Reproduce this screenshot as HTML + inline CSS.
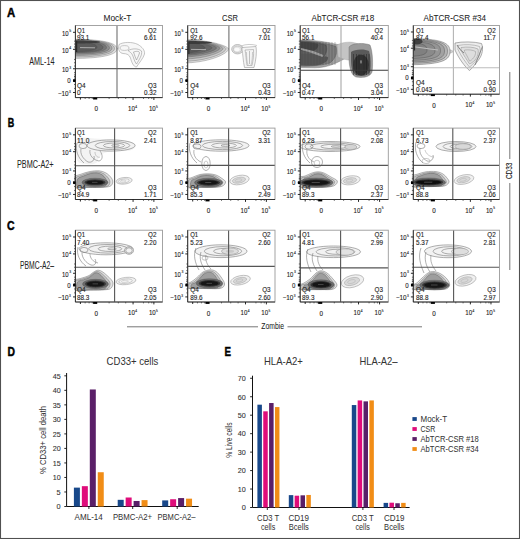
<!DOCTYPE html>
<html><head><meta charset="utf-8"><title>Figure</title>
<style>html,body{margin:0;padding:0;background:#fff;}body{width:520px;height:539px;overflow:hidden;font-family:"Liberation Sans", sans-serif;}svg{display:block;}</style>
</head><body>
<svg width="520" height="539" viewBox="0 0 520 539" font-family='"Liberation Sans", sans-serif'><defs><filter id="bl" x="-5%" y="-5%" width="110%" height="110%"><feGaussianBlur stdDeviation="0.45"/></filter><clipPath id="clip00"><rect x="75.40" y="25.50" width="87.10" height="72.10"/></clipPath><clipPath id="clip01"><rect x="187.70" y="25.50" width="87.30" height="72.10"/></clipPath><clipPath id="clip02"><rect x="300.20" y="25.50" width="88.10" height="72.10"/></clipPath><clipPath id="clip03"><rect x="413.30" y="25.50" width="86.20" height="68.70"/></clipPath><clipPath id="clip10"><rect x="75.40" y="128.10" width="87.10" height="71.40"/></clipPath><clipPath id="clip11"><rect x="187.70" y="128.10" width="87.30" height="71.40"/></clipPath><clipPath id="clip12"><rect x="300.20" y="128.10" width="88.10" height="71.40"/></clipPath><clipPath id="clip13"><rect x="413.30" y="128.10" width="86.20" height="71.40"/></clipPath><clipPath id="clip20"><rect x="75.40" y="230.20" width="87.10" height="71.80"/></clipPath><clipPath id="clip21"><rect x="187.70" y="230.20" width="87.30" height="71.80"/></clipPath><clipPath id="clip22"><rect x="300.20" y="230.20" width="88.10" height="71.80"/></clipPath><clipPath id="clip23"><rect x="413.30" y="230.20" width="86.20" height="71.80"/></clipPath></defs><rect x="0.00" y="0.00" width="520.00" height="539.00" fill="#fff" />
<text x="7.00" y="16.60" font-size="12.3" fill="#000" font-weight="bold" textLength="8.20" lengthAdjust="spacingAndGlyphs" stroke="#000" stroke-width="0.45">A</text>
<text x="7.70" y="127.00" font-size="12.3" fill="#000" font-weight="bold" textLength="6.50" lengthAdjust="spacingAndGlyphs" stroke="#000" stroke-width="0.45">B</text>
<text x="6.90" y="229.50" font-size="12.3" fill="#000" font-weight="bold" textLength="7.60" lengthAdjust="spacingAndGlyphs" stroke="#000" stroke-width="0.45">C</text>
<text x="7.50" y="355.80" font-size="12.3" fill="#000" font-weight="bold" textLength="7.50" lengthAdjust="spacingAndGlyphs" stroke="#000" stroke-width="0.45">D</text>
<text x="224.40" y="355.70" font-size="12.3" fill="#000" font-weight="bold" textLength="6.50" lengthAdjust="spacingAndGlyphs" stroke="#000" stroke-width="0.45">E</text>
<text x="103.50" y="21.00" font-size="9.2" fill="#222" textLength="27.80" lengthAdjust="spacingAndGlyphs" stroke="#222" stroke-width="0.04" >Mock-T</text>
<text x="222.10" y="21.00" font-size="9.2" fill="#222" textLength="16.00" lengthAdjust="spacingAndGlyphs" stroke="#222" stroke-width="0.04" >CSR</text>
<text x="311.50" y="21.00" font-size="9.2" fill="#222" textLength="62.70" lengthAdjust="spacingAndGlyphs" stroke="#222" stroke-width="0.04" >AbTCR-CSR #18</text>
<text x="423.50" y="21.00" font-size="9.2" fill="#222" textLength="62.50" lengthAdjust="spacingAndGlyphs" stroke="#222" stroke-width="0.04" >AbTCR-CSR #34</text>
<text x="29.20" y="65.10" font-size="10.8" fill="#222" textLength="25.20" lengthAdjust="spacingAndGlyphs" stroke="#222" stroke-width="0.04" >AML-14</text>
<text x="16.90" y="168.00" font-size="10.8" fill="#222" textLength="36.70" lengthAdjust="spacingAndGlyphs" stroke="#222" stroke-width="0.04" >PBMC-A2+</text>
<text x="20.00" y="268.90" font-size="10.8" fill="#222" textLength="34.00" lengthAdjust="spacingAndGlyphs" stroke="#222" stroke-width="0.04" >PBMC-A2–</text>
<line x1="509.80" y1="72.00" x2="509.80" y2="159.00" stroke="#777" stroke-width="1" />
<line x1="509.80" y1="183.00" x2="509.80" y2="270.00" stroke="#777" stroke-width="1" />
<text x="503.80" y="170.90" font-size="8.8" fill="#222" textLength="16.40" lengthAdjust="spacingAndGlyphs" transform="rotate(-90 512.00 170.90)" stroke="#222" stroke-width="0.12" >CD33</text>
<line x1="127.00" y1="326.80" x2="258.00" y2="326.80" stroke="#777" stroke-width="1" />
<line x1="287.50" y1="326.80" x2="422.00" y2="326.80" stroke="#777" stroke-width="1" />
<text x="261.30" y="328.80" font-size="8.8" fill="#222" textLength="22.70" lengthAdjust="spacingAndGlyphs" stroke="#222" stroke-width="0.04" >Zombie</text>
<g clip-path="url(#clip00)"><g filter="url(#bl)"><line x1="108" y1="48.6" x2="118" y2="48.6" stroke="#c8c8c8" stroke-width="1.2"/><path d="M70.00,39.20 C107.60,39.20 117.00,44.00 117.00,48.80 C117.00,53.65 107.60,58.50 70.00,58.50 Z" fill="#e0e0e0" stroke="#444" stroke-width="0.3"/><path d="M70.00,39.60 C105.60,39.60 114.50,44.05 114.50,48.50 C114.50,52.80 105.60,57.10 70.00,57.10 Z" fill="#c6c6c6" stroke="#444" stroke-width="0.3"/><path d="M70.00,40.00 C103.60,40.00 112.00,44.10 112.00,48.20 C112.00,51.90 103.60,55.60 70.00,55.60 Z" fill="#aaaaaa" stroke="#444" stroke-width="0.3"/><path d="M70.00,40.40 C101.60,40.40 109.50,44.15 109.50,47.90 C109.50,51.10 101.60,54.30 70.00,54.30 Z" fill="#8e8e8e" stroke="#444" stroke-width="0.3"/><path d="M70.00,40.80 C99.20,40.80 106.50,44.20 106.50,47.60 C106.50,50.40 99.20,53.20 70.00,53.20 Z" fill="#767676" stroke="#444" stroke-width="0.3"/><path d="M70.00,41.40 C96.40,41.40 103.00,44.40 103.00,47.40 C103.00,49.90 96.40,52.40 70.00,52.40 Z" fill="#666666" stroke="#444" stroke-width="0.3"/><path d="M70.00,42.00 C91.60,42.00 97.00,44.60 97.00,47.20 C97.00,49.45 91.60,51.70 70.00,51.70 Z" fill="#5a5a5a" stroke="#444" stroke-width="0.3"/><path d="M70.00,40.50 C94.00,40.50 100.00,41.25 100.00,42.00 C100.00,42.75 94.00,43.50 70.00,43.50 Z" fill="#3c3c3c" stroke="none" stroke-width="0.5"/><line x1="80" y1="47.6" x2="95" y2="47.8" stroke="#b4b4b4" stroke-width="0.9"/><rect x="75.4" y="41" width="1.8" height="11" rx="0" fill="#2a2a2a"/><path d="M119,44.5 C123,42 132,41.5 138,44.5 C142,47 145,50 144.5,54 C143.5,58 139,63 136.5,67 C133.5,67 131.5,62 130.5,58 C129.5,55 127,53.5 123,53.5 C120,53.5 118.5,50 118.5,48 Z" fill="#f7f7f7" stroke="#a0a0a0" stroke-width="0.6"/><path d="M128,50.5 C132,48.5 138,48 141.5,51 C142.5,55 139,60 136.5,64 C134.5,62 133.5,57 132.5,55 C131.5,53 130,52 128,50.5 Z" fill="none" stroke="#999" stroke-width="0.6"/><path d="M133.5,52 C136.5,51 139.5,51 139.5,53 C138.5,56 137.5,58 136.5,60 C135.5,58 134.5,55 133.5,52 Z" fill="none" stroke="#909090" stroke-width="0.6"/><ellipse cx="124.5" cy="48" rx="4.5" ry="2.4" fill="none" stroke="#a8a8a8" stroke-width="0.6"/></g></g>
<line x1="117.00" y1="25.50" x2="117.00" y2="97.60" stroke="#707070" stroke-width="1.1" />
<line x1="75.40" y1="68.60" x2="162.50" y2="68.60" stroke="#606060" stroke-width="1.1" />
<rect x="75.40" y="25.50" width="87.10" height="72.10" fill="none" stroke="#9a9a9a" stroke-width="0.9"/>
<line x1="75.40" y1="25.50" x2="75.40" y2="97.60" stroke="#222" stroke-width="0.9" />
<line x1="75.40" y1="97.60" x2="162.50" y2="97.60" stroke="#222" stroke-width="0.9" />
<line x1="73.00" y1="32.31" x2="75.40" y2="32.31" stroke="#111" stroke-width="0.9" />
<text x="62.00" y="35.81" font-size="6.9" fill="#222" textLength="6.60" lengthAdjust="spacingAndGlyphs" stroke="#222" stroke-width="0.12" >10</text>
<text x="69.20" y="32.31" font-size="4.0" fill="#222" textLength="1.90" lengthAdjust="spacingAndGlyphs" stroke="#222" stroke-width="0.12" >5</text>
<line x1="73.00" y1="49.33" x2="75.40" y2="49.33" stroke="#111" stroke-width="0.9" />
<text x="62.00" y="52.83" font-size="6.9" fill="#222" textLength="6.60" lengthAdjust="spacingAndGlyphs" stroke="#222" stroke-width="0.12" >10</text>
<text x="69.20" y="49.33" font-size="4.0" fill="#222" textLength="1.90" lengthAdjust="spacingAndGlyphs" stroke="#222" stroke-width="0.12" >4</text>
<line x1="73.00" y1="68.76" x2="75.40" y2="68.76" stroke="#111" stroke-width="0.9" />
<text x="62.00" y="72.26" font-size="6.9" fill="#222" textLength="6.60" lengthAdjust="spacingAndGlyphs" stroke="#222" stroke-width="0.12" >10</text>
<text x="69.20" y="68.76" font-size="4.0" fill="#222" textLength="1.90" lengthAdjust="spacingAndGlyphs" stroke="#222" stroke-width="0.12" >3</text>
<line x1="73.00" y1="80.58" x2="75.40" y2="80.58" stroke="#111" stroke-width="0.9" />
<text x="67.30" y="83.08" font-size="7.0" fill="#222" textLength="3.40" lengthAdjust="spacingAndGlyphs" stroke="#222" stroke-width="0.12" >0</text>
<rect x="73.10" y="79.18" width="2.30" height="2.80" fill="#000" />
<line x1="73.00" y1="92.49" x2="75.40" y2="92.49" stroke="#111" stroke-width="0.9" />
<text x="57.80" y="95.99" font-size="6.9" fill="#222" textLength="10.80" lengthAdjust="spacingAndGlyphs" stroke="#222" stroke-width="0.12" >−10</text>
<text x="69.00" y="92.89" font-size="4.0" fill="#222" textLength="1.80" lengthAdjust="spacingAndGlyphs" stroke="#222" stroke-width="0.12" >3</text>
<line x1="74.00" y1="41.16" x2="75.40" y2="41.16" stroke="#333" stroke-width="0.7" />
<line x1="74.00" y1="44.06" x2="75.40" y2="44.06" stroke="#333" stroke-width="0.7" />
<line x1="74.00" y1="46.95" x2="75.40" y2="46.95" stroke="#333" stroke-width="0.7" />
<line x1="74.00" y1="59.44" x2="75.40" y2="59.44" stroke="#333" stroke-width="0.7" />
<line x1="74.00" y1="62.74" x2="75.40" y2="62.74" stroke="#333" stroke-width="0.7" />
<line x1="74.00" y1="66.04" x2="75.40" y2="66.04" stroke="#333" stroke-width="0.7" />
<line x1="74.00" y1="74.90" x2="75.40" y2="74.90" stroke="#333" stroke-width="0.7" />
<line x1="74.00" y1="76.91" x2="75.40" y2="76.91" stroke="#333" stroke-width="0.7" />
<line x1="74.00" y1="78.92" x2="75.40" y2="78.92" stroke="#333" stroke-width="0.7" />
<line x1="74.00" y1="84.51" x2="75.40" y2="84.51" stroke="#333" stroke-width="0.7" />
<line x1="74.00" y1="88.44" x2="75.40" y2="88.44" stroke="#333" stroke-width="0.7" />
<line x1="74.00" y1="72.66" x2="75.40" y2="72.66" stroke="#333" stroke-width="0.7" />
<line x1="74.00" y1="76.56" x2="75.40" y2="76.56" stroke="#333" stroke-width="0.7" />
<text x="94.52" y="111.10" font-size="7.2" fill="#222" textLength="3.50" lengthAdjust="spacingAndGlyphs" stroke="#222" stroke-width="0.12" >0</text>
<rect x="93.12" y="97.60" width="4.10" height="1.90" fill="#000" />
<text x="128.07" y="110.80" font-size="7.4" fill="#222" textLength="6.80" lengthAdjust="spacingAndGlyphs" stroke="#222" stroke-width="0.12" >10</text>
<text x="135.27" y="107.50" font-size="4.2" fill="#222" textLength="1.80" lengthAdjust="spacingAndGlyphs" stroke="#222" stroke-width="0.12" >4</text>
<line x1="133.07" y1="97.60" x2="133.07" y2="100.00" stroke="#111" stroke-width="0.9" />
<text x="148.89" y="110.80" font-size="7.4" fill="#222" textLength="6.80" lengthAdjust="spacingAndGlyphs" stroke="#222" stroke-width="0.12" >10</text>
<text x="156.09" y="107.50" font-size="4.2" fill="#222" textLength="1.80" lengthAdjust="spacingAndGlyphs" stroke="#222" stroke-width="0.12" >5</text>
<line x1="153.89" y1="97.60" x2="153.89" y2="100.00" stroke="#111" stroke-width="0.9" />
<line x1="80.40" y1="97.60" x2="80.40" y2="99.60" stroke="#111" stroke-width="0.9" />
<line x1="85.15" y1="97.60" x2="85.15" y2="99.00" stroke="#333" stroke-width="0.7" />
<line x1="89.10" y1="97.60" x2="89.10" y2="99.00" stroke="#333" stroke-width="0.7" />
<line x1="92.27" y1="97.60" x2="92.27" y2="99.00" stroke="#333" stroke-width="0.7" />
<line x1="109.12" y1="97.60" x2="109.12" y2="99.00" stroke="#333" stroke-width="0.7" />
<line x1="118.33" y1="97.60" x2="118.33" y2="99.00" stroke="#333" stroke-width="0.7" />
<line x1="125.70" y1="97.60" x2="125.70" y2="99.00" stroke="#333" stroke-width="0.7" />
<line x1="143.48" y1="97.60" x2="143.48" y2="99.00" stroke="#333" stroke-width="0.7" />
<line x1="148.68" y1="97.60" x2="148.68" y2="99.00" stroke="#333" stroke-width="0.7" />
<line x1="151.81" y1="97.60" x2="151.81" y2="99.00" stroke="#333" stroke-width="0.7" />
<text x="77.00" y="32.50" font-size="7.1" fill="#222" textLength="8.00" lengthAdjust="spacingAndGlyphs" stroke="#222" stroke-width="0.12" >Q1</text>
<text x="77.00" y="40.00" font-size="7.1" fill="#222" textLength="12.30" lengthAdjust="spacingAndGlyphs" stroke="#222" stroke-width="0.12" >93.1</text>
<text x="148.00" y="32.50" font-size="7.1" fill="#222" textLength="8.40" lengthAdjust="spacingAndGlyphs" stroke="#222" stroke-width="0.12" >Q2</text>
<text x="144.10" y="40.00" font-size="7.1" fill="#222" textLength="12.30" lengthAdjust="spacingAndGlyphs" stroke="#222" stroke-width="0.12" >6.61</text>
<text x="77.00" y="88.00" font-size="7.1" fill="#222" textLength="8.60" lengthAdjust="spacingAndGlyphs" stroke="#222" stroke-width="0.12" >Q4</text>
<text x="77.00" y="95.20" font-size="7.1" fill="#222" textLength="3.60" lengthAdjust="spacingAndGlyphs" stroke="#222" stroke-width="0.12" >0</text>
<text x="148.00" y="88.00" font-size="7.1" fill="#222" textLength="8.40" lengthAdjust="spacingAndGlyphs" stroke="#222" stroke-width="0.12" >Q3</text>
<text x="144.10" y="95.20" font-size="7.1" fill="#222" textLength="12.30" lengthAdjust="spacingAndGlyphs" stroke="#222" stroke-width="0.12" >0.32</text>
<g clip-path="url(#clip01)"><g filter="url(#bl)"><line x1="220" y1="48.8" x2="229" y2="48.8" stroke="#c8c8c8" stroke-width="1.2"/><path d="M182.00,39.60 C209.90,39.60 228.50,46.18 228.50,49.00 C228.50,53.20 209.90,63.00 182.00,63.00 Z" fill="#e0e0e0" stroke="#444" stroke-width="0.3"/><path d="M182.00,40.10 C208.40,40.10 226.00,46.26 226.00,48.90 C226.00,52.62 208.40,61.30 182.00,61.30 Z" fill="#cacaca" stroke="#444" stroke-width="0.3"/><path d="M182.00,40.40 C206.60,40.40 223.00,46.14 223.00,48.60 C223.00,51.72 206.60,59.00 182.00,59.00 Z" fill="#aeaeae" stroke="#444" stroke-width="0.3"/><path d="M182.00,40.70 C204.80,40.70 220.00,46.02 220.00,48.30 C220.00,50.88 204.80,56.90 182.00,56.90 Z" fill="#909090" stroke="#444" stroke-width="0.3"/><path d="M182.00,41.00 C202.70,41.00 216.50,45.90 216.50,48.00 C216.50,50.22 202.70,55.40 182.00,55.40 Z" fill="#787878" stroke="#444" stroke-width="0.3"/><path d="M182.00,41.40 C200.00,41.40 212.00,45.88 212.00,47.80 C212.00,49.72 200.00,54.20 182.00,54.20 Z" fill="#666666" stroke="#444" stroke-width="0.3"/><path d="M182.00,42.00 C195.80,42.00 205.00,45.92 205.00,47.60 C205.00,49.28 195.80,53.20 182.00,53.20 Z" fill="#585858" stroke="#444" stroke-width="0.3"/><path d="M182.00,41.00 C206.00,41.00 212.00,41.80 212.00,42.60 C212.00,43.40 206.00,44.20 182.00,44.20 Z" fill="#3a3a3a" stroke="none" stroke-width="0.5"/><line x1="191" y1="49.4" x2="206" y2="49.6" stroke="#b4b4b4" stroke-width="0.9"/><rect x="187.7" y="42" width="1.8" height="12" rx="0" fill="#2a2a2a"/><ellipse cx="237.5" cy="49.2" rx="5.8" ry="4.7" fill="#e4e4e4" stroke="#999" stroke-width="0.6"/><ellipse cx="237.5" cy="49.3" rx="4.2" ry="3.2" fill="none" stroke="#aaa" stroke-width="0.5"/><ellipse cx="237" cy="49.5" rx="2.8" ry="1.8" fill="#fafafa" stroke="none" stroke-width="0.5"/><path d="M242,47.5 L256,46.5 C257,52 256,60 254,67.5 L244.5,67.5 C243,61 243,54 242,50 Z" fill="#f4f4f4" stroke="#9a9a9a" stroke-width="0.6"/><path d="M245,50 L253.5,49.5 C254,55 253,61 252,65.5 L247,65.5 C246,60 246,54 245,50 Z" fill="none" stroke="#a0a0a0" stroke-width="0.6"/><line x1="249.5" y1="51" x2="249.5" y2="64" stroke="#999" stroke-width="0.6"/><path d="M246.5,52 C246.5,57 247,62 248,65" fill="none" stroke="#a0a0a0" stroke-width="0.5"/><path d="M252.5,52 C252.5,57 252,62 251,65" fill="none" stroke="#a0a0a0" stroke-width="0.5"/><path d="M241,46 C246,44 252,44 257,45.5" fill="none" stroke="#9a9a9a" stroke-width="0.5"/></g></g>
<line x1="228.90" y1="25.50" x2="228.90" y2="97.60" stroke="#707070" stroke-width="1.1" />
<line x1="187.70" y1="69.50" x2="275.00" y2="69.50" stroke="#606060" stroke-width="1.1" />
<rect x="187.70" y="25.50" width="87.30" height="72.10" fill="none" stroke="#9a9a9a" stroke-width="0.9"/>
<line x1="187.70" y1="25.50" x2="187.70" y2="97.60" stroke="#222" stroke-width="0.9" />
<line x1="187.70" y1="97.60" x2="275.00" y2="97.60" stroke="#222" stroke-width="0.9" />
<line x1="185.30" y1="32.31" x2="187.70" y2="32.31" stroke="#111" stroke-width="0.9" />
<text x="174.30" y="35.81" font-size="6.9" fill="#222" textLength="6.60" lengthAdjust="spacingAndGlyphs" stroke="#222" stroke-width="0.12" >10</text>
<text x="181.50" y="32.31" font-size="4.0" fill="#222" textLength="1.90" lengthAdjust="spacingAndGlyphs" stroke="#222" stroke-width="0.12" >5</text>
<line x1="185.30" y1="49.33" x2="187.70" y2="49.33" stroke="#111" stroke-width="0.9" />
<text x="174.30" y="52.83" font-size="6.9" fill="#222" textLength="6.60" lengthAdjust="spacingAndGlyphs" stroke="#222" stroke-width="0.12" >10</text>
<text x="181.50" y="49.33" font-size="4.0" fill="#222" textLength="1.90" lengthAdjust="spacingAndGlyphs" stroke="#222" stroke-width="0.12" >4</text>
<line x1="185.30" y1="68.76" x2="187.70" y2="68.76" stroke="#111" stroke-width="0.9" />
<text x="174.30" y="72.26" font-size="6.9" fill="#222" textLength="6.60" lengthAdjust="spacingAndGlyphs" stroke="#222" stroke-width="0.12" >10</text>
<text x="181.50" y="68.76" font-size="4.0" fill="#222" textLength="1.90" lengthAdjust="spacingAndGlyphs" stroke="#222" stroke-width="0.12" >3</text>
<line x1="185.30" y1="80.58" x2="187.70" y2="80.58" stroke="#111" stroke-width="0.9" />
<text x="179.60" y="83.08" font-size="7.0" fill="#222" textLength="3.40" lengthAdjust="spacingAndGlyphs" stroke="#222" stroke-width="0.12" >0</text>
<rect x="185.40" y="79.18" width="2.30" height="2.80" fill="#000" />
<line x1="185.30" y1="92.49" x2="187.70" y2="92.49" stroke="#111" stroke-width="0.9" />
<text x="170.10" y="95.99" font-size="6.9" fill="#222" textLength="10.80" lengthAdjust="spacingAndGlyphs" stroke="#222" stroke-width="0.12" >−10</text>
<text x="181.30" y="92.89" font-size="4.0" fill="#222" textLength="1.80" lengthAdjust="spacingAndGlyphs" stroke="#222" stroke-width="0.12" >3</text>
<line x1="186.30" y1="41.16" x2="187.70" y2="41.16" stroke="#333" stroke-width="0.7" />
<line x1="186.30" y1="44.06" x2="187.70" y2="44.06" stroke="#333" stroke-width="0.7" />
<line x1="186.30" y1="46.95" x2="187.70" y2="46.95" stroke="#333" stroke-width="0.7" />
<line x1="186.30" y1="59.44" x2="187.70" y2="59.44" stroke="#333" stroke-width="0.7" />
<line x1="186.30" y1="62.74" x2="187.70" y2="62.74" stroke="#333" stroke-width="0.7" />
<line x1="186.30" y1="66.04" x2="187.70" y2="66.04" stroke="#333" stroke-width="0.7" />
<line x1="186.30" y1="74.90" x2="187.70" y2="74.90" stroke="#333" stroke-width="0.7" />
<line x1="186.30" y1="76.91" x2="187.70" y2="76.91" stroke="#333" stroke-width="0.7" />
<line x1="186.30" y1="78.92" x2="187.70" y2="78.92" stroke="#333" stroke-width="0.7" />
<line x1="186.30" y1="84.51" x2="187.70" y2="84.51" stroke="#333" stroke-width="0.7" />
<line x1="186.30" y1="88.44" x2="187.70" y2="88.44" stroke="#333" stroke-width="0.7" />
<line x1="186.30" y1="72.66" x2="187.70" y2="72.66" stroke="#333" stroke-width="0.7" />
<line x1="186.30" y1="76.56" x2="187.70" y2="76.56" stroke="#333" stroke-width="0.7" />
<text x="206.87" y="111.10" font-size="7.2" fill="#222" textLength="3.50" lengthAdjust="spacingAndGlyphs" stroke="#222" stroke-width="0.12" >0</text>
<rect x="205.47" y="97.60" width="4.10" height="1.90" fill="#000" />
<text x="240.50" y="110.80" font-size="7.4" fill="#222" textLength="6.80" lengthAdjust="spacingAndGlyphs" stroke="#222" stroke-width="0.12" >10</text>
<text x="247.70" y="107.50" font-size="4.2" fill="#222" textLength="1.80" lengthAdjust="spacingAndGlyphs" stroke="#222" stroke-width="0.12" >4</text>
<line x1="245.50" y1="97.60" x2="245.50" y2="100.00" stroke="#111" stroke-width="0.9" />
<text x="261.37" y="110.80" font-size="7.4" fill="#222" textLength="6.80" lengthAdjust="spacingAndGlyphs" stroke="#222" stroke-width="0.12" >10</text>
<text x="268.57" y="107.50" font-size="4.2" fill="#222" textLength="1.80" lengthAdjust="spacingAndGlyphs" stroke="#222" stroke-width="0.12" >5</text>
<line x1="266.37" y1="97.60" x2="266.37" y2="100.00" stroke="#111" stroke-width="0.9" />
<line x1="192.70" y1="97.60" x2="192.70" y2="99.60" stroke="#111" stroke-width="0.9" />
<line x1="197.46" y1="97.60" x2="197.46" y2="99.00" stroke="#333" stroke-width="0.7" />
<line x1="201.43" y1="97.60" x2="201.43" y2="99.00" stroke="#333" stroke-width="0.7" />
<line x1="204.60" y1="97.60" x2="204.60" y2="99.00" stroke="#333" stroke-width="0.7" />
<line x1="221.50" y1="97.60" x2="221.50" y2="99.00" stroke="#333" stroke-width="0.7" />
<line x1="230.73" y1="97.60" x2="230.73" y2="99.00" stroke="#333" stroke-width="0.7" />
<line x1="238.11" y1="97.60" x2="238.11" y2="99.00" stroke="#333" stroke-width="0.7" />
<line x1="255.93" y1="97.60" x2="255.93" y2="99.00" stroke="#333" stroke-width="0.7" />
<line x1="261.15" y1="97.60" x2="261.15" y2="99.00" stroke="#333" stroke-width="0.7" />
<line x1="264.28" y1="97.60" x2="264.28" y2="99.00" stroke="#333" stroke-width="0.7" />
<text x="190.20" y="32.50" font-size="7.1" fill="#222" textLength="8.00" lengthAdjust="spacingAndGlyphs" stroke="#222" stroke-width="0.12" >Q1</text>
<text x="190.20" y="40.00" font-size="7.1" fill="#222" textLength="12.30" lengthAdjust="spacingAndGlyphs" stroke="#222" stroke-width="0.12" >92.6</text>
<text x="262.20" y="32.50" font-size="7.1" fill="#222" textLength="8.40" lengthAdjust="spacingAndGlyphs" stroke="#222" stroke-width="0.12" >Q2</text>
<text x="258.30" y="40.00" font-size="7.1" fill="#222" textLength="12.30" lengthAdjust="spacingAndGlyphs" stroke="#222" stroke-width="0.12" >7.01</text>
<text x="190.20" y="88.00" font-size="7.1" fill="#222" textLength="8.60" lengthAdjust="spacingAndGlyphs" stroke="#222" stroke-width="0.12" >Q4</text>
<text x="190.20" y="95.20" font-size="7.1" fill="#222" textLength="3.60" lengthAdjust="spacingAndGlyphs" stroke="#222" stroke-width="0.12" >0</text>
<text x="262.20" y="88.00" font-size="7.1" fill="#222" textLength="8.40" lengthAdjust="spacingAndGlyphs" stroke="#222" stroke-width="0.12" >Q3</text>
<text x="258.30" y="95.20" font-size="7.1" fill="#222" textLength="12.30" lengthAdjust="spacingAndGlyphs" stroke="#222" stroke-width="0.12" >0.43</text>
<g clip-path="url(#clip02)"><g filter="url(#bl)"><path d="M296,40.0 C312,39.5 326,41.5 346,46.5 L346,58 C338,62 330,67.5 315,67.8 L296,67.5 Z" fill="#a4a4a4" stroke="#666" stroke-width="0.4"/><path d="M296,40.8 C310,40.4 322,42 336,46.5 C338,52 336,58 330,63 C318,66.5 305,66.5 296,66 Z" fill="#7e7e7e" stroke="#444" stroke-width="0.3"/><path d="M296,41.5 C306,41 316,42 326,45 C328,50 326,56 320,60 C310,62 302,62 296,61 Z" fill="#5e5e5e" stroke="#333" stroke-width="0.3"/><path d="M296,41.8 C304,41.4 312,42 318,44 C319,47 317,50 312,51 C306,51.5 300,51 296,50.5 Z" fill="#444444" stroke="none" stroke-width="0.5"/><path d="M296,54 C305,53 318,54 328,57 C329,61 324,64 316,65.5 C308,66 300,65.5 296,65 Z" fill="#575757" stroke="none" stroke-width="0.5"/><path d="M299,48.5 C307,50 315,52.5 323,56" fill="none" stroke="#a0a0a0" stroke-width="2.0"/><line x1="302" y1="42" x2="302" y2="65" stroke="#3a3a3a" stroke-width="0.6" opacity="0.5"/><line x1="305" y1="42" x2="305" y2="65" stroke="#3a3a3a" stroke-width="0.6" opacity="0.5"/><line x1="308" y1="42" x2="308" y2="65" stroke="#3a3a3a" stroke-width="0.6" opacity="0.5"/><line x1="311" y1="42" x2="311" y2="65" stroke="#3a3a3a" stroke-width="0.6" opacity="0.5"/><line x1="314" y1="42" x2="314" y2="65" stroke="#3a3a3a" stroke-width="0.6" opacity="0.5"/><line x1="317" y1="42" x2="317" y2="65" stroke="#3a3a3a" stroke-width="0.6" opacity="0.5"/><line x1="320" y1="42" x2="320" y2="65" stroke="#3a3a3a" stroke-width="0.6" opacity="0.5"/><line x1="323" y1="42" x2="323" y2="65" stroke="#3a3a3a" stroke-width="0.6" opacity="0.5"/><line x1="326" y1="42" x2="326" y2="65" stroke="#3a3a3a" stroke-width="0.6" opacity="0.5"/><line x1="329" y1="42" x2="329" y2="65" stroke="#3a3a3a" stroke-width="0.6" opacity="0.5"/><line x1="332" y1="42" x2="332" y2="65" stroke="#3a3a3a" stroke-width="0.6" opacity="0.5"/><line x1="335" y1="42" x2="335" y2="65" stroke="#3a3a3a" stroke-width="0.6" opacity="0.5"/><path d="M337,45 C342,42 352,41 358,44 L358,60 C352,61 345,60 338,57 Z" fill="#c4c4c4" stroke="#999" stroke-width="0.4"/><path d="M349,47 C352,43 364,42.5 370,45 C373,52 373,66 372,72 C370,77.5 362,78 356,77 C351,75.5 349,66 349,58 Z" fill="#9a9a9a" stroke="#666" stroke-width="0.4"/><path d="M351,52 C354,49 365,48.5 369,51 C371,57 371,67 370,72 C368,76 362,76.5 357,75.5 C352,74 351,66 351,60 Z" fill="#5a5a5a" stroke="none" stroke-width="0.5"/><ellipse cx="361" cy="65" rx="7.8" ry="10.5" fill="#333333" stroke="none" stroke-width="0.5"/><line x1="353.5" y1="54" x2="353.5" y2="75" stroke="#1a1a1a" stroke-width="0.8" opacity="0.55"/><line x1="356.5" y1="54" x2="356.5" y2="75" stroke="#1a1a1a" stroke-width="0.8" opacity="0.55"/><line x1="359" y1="54" x2="359" y2="75" stroke="#1a1a1a" stroke-width="0.8" opacity="0.55"/><line x1="364" y1="54" x2="364" y2="75" stroke="#1a1a1a" stroke-width="0.8" opacity="0.55"/><line x1="366.5" y1="54" x2="366.5" y2="75" stroke="#1a1a1a" stroke-width="0.8" opacity="0.55"/><line x1="369" y1="54" x2="369" y2="75" stroke="#1a1a1a" stroke-width="0.8" opacity="0.55"/><ellipse cx="361" cy="61.8" rx="0.7" ry="1.9" fill="#9a9a9a" stroke="none" stroke-width="0.5"/></g></g>
<line x1="341.00" y1="25.50" x2="341.00" y2="97.60" stroke="#a8a8a8" stroke-width="1.1" />
<line x1="300.20" y1="70.30" x2="388.30" y2="70.30" stroke="#3a3a3a" stroke-width="1.1" />
<rect x="300.20" y="25.50" width="88.10" height="72.10" fill="none" stroke="#9a9a9a" stroke-width="0.9"/>
<line x1="300.20" y1="25.50" x2="300.20" y2="97.60" stroke="#222" stroke-width="0.9" />
<line x1="300.20" y1="97.60" x2="388.30" y2="97.60" stroke="#222" stroke-width="0.9" />
<line x1="297.80" y1="32.31" x2="300.20" y2="32.31" stroke="#111" stroke-width="0.9" />
<text x="286.80" y="35.81" font-size="6.9" fill="#222" textLength="6.60" lengthAdjust="spacingAndGlyphs" stroke="#222" stroke-width="0.12" >10</text>
<text x="294.00" y="32.31" font-size="4.0" fill="#222" textLength="1.90" lengthAdjust="spacingAndGlyphs" stroke="#222" stroke-width="0.12" >5</text>
<line x1="297.80" y1="49.33" x2="300.20" y2="49.33" stroke="#111" stroke-width="0.9" />
<text x="286.80" y="52.83" font-size="6.9" fill="#222" textLength="6.60" lengthAdjust="spacingAndGlyphs" stroke="#222" stroke-width="0.12" >10</text>
<text x="294.00" y="49.33" font-size="4.0" fill="#222" textLength="1.90" lengthAdjust="spacingAndGlyphs" stroke="#222" stroke-width="0.12" >4</text>
<line x1="297.80" y1="68.76" x2="300.20" y2="68.76" stroke="#111" stroke-width="0.9" />
<text x="286.80" y="72.26" font-size="6.9" fill="#222" textLength="6.60" lengthAdjust="spacingAndGlyphs" stroke="#222" stroke-width="0.12" >10</text>
<text x="294.00" y="68.76" font-size="4.0" fill="#222" textLength="1.90" lengthAdjust="spacingAndGlyphs" stroke="#222" stroke-width="0.12" >3</text>
<line x1="297.80" y1="80.58" x2="300.20" y2="80.58" stroke="#111" stroke-width="0.9" />
<text x="292.10" y="83.08" font-size="7.0" fill="#222" textLength="3.40" lengthAdjust="spacingAndGlyphs" stroke="#222" stroke-width="0.12" >0</text>
<rect x="297.90" y="79.18" width="2.30" height="2.80" fill="#000" />
<line x1="297.80" y1="92.49" x2="300.20" y2="92.49" stroke="#111" stroke-width="0.9" />
<text x="282.60" y="95.99" font-size="6.9" fill="#222" textLength="10.80" lengthAdjust="spacingAndGlyphs" stroke="#222" stroke-width="0.12" >−10</text>
<text x="293.80" y="92.89" font-size="4.0" fill="#222" textLength="1.80" lengthAdjust="spacingAndGlyphs" stroke="#222" stroke-width="0.12" >3</text>
<line x1="298.80" y1="41.16" x2="300.20" y2="41.16" stroke="#333" stroke-width="0.7" />
<line x1="298.80" y1="44.06" x2="300.20" y2="44.06" stroke="#333" stroke-width="0.7" />
<line x1="298.80" y1="46.95" x2="300.20" y2="46.95" stroke="#333" stroke-width="0.7" />
<line x1="298.80" y1="59.44" x2="300.20" y2="59.44" stroke="#333" stroke-width="0.7" />
<line x1="298.80" y1="62.74" x2="300.20" y2="62.74" stroke="#333" stroke-width="0.7" />
<line x1="298.80" y1="66.04" x2="300.20" y2="66.04" stroke="#333" stroke-width="0.7" />
<line x1="298.80" y1="74.90" x2="300.20" y2="74.90" stroke="#333" stroke-width="0.7" />
<line x1="298.80" y1="76.91" x2="300.20" y2="76.91" stroke="#333" stroke-width="0.7" />
<line x1="298.80" y1="78.92" x2="300.20" y2="78.92" stroke="#333" stroke-width="0.7" />
<line x1="298.80" y1="84.51" x2="300.20" y2="84.51" stroke="#333" stroke-width="0.7" />
<line x1="298.80" y1="88.44" x2="300.20" y2="88.44" stroke="#333" stroke-width="0.7" />
<line x1="298.80" y1="72.66" x2="300.20" y2="72.66" stroke="#333" stroke-width="0.7" />
<line x1="298.80" y1="76.56" x2="300.20" y2="76.56" stroke="#333" stroke-width="0.7" />
<text x="319.56" y="111.10" font-size="7.2" fill="#222" textLength="3.50" lengthAdjust="spacingAndGlyphs" stroke="#222" stroke-width="0.12" >0</text>
<rect x="318.16" y="97.60" width="4.10" height="1.90" fill="#000" />
<text x="353.53" y="110.80" font-size="7.4" fill="#222" textLength="6.80" lengthAdjust="spacingAndGlyphs" stroke="#222" stroke-width="0.12" >10</text>
<text x="360.73" y="107.50" font-size="4.2" fill="#222" textLength="1.80" lengthAdjust="spacingAndGlyphs" stroke="#222" stroke-width="0.12" >4</text>
<line x1="358.53" y1="97.60" x2="358.53" y2="100.00" stroke="#111" stroke-width="0.9" />
<text x="374.59" y="110.80" font-size="7.4" fill="#222" textLength="6.80" lengthAdjust="spacingAndGlyphs" stroke="#222" stroke-width="0.12" >10</text>
<text x="381.79" y="107.50" font-size="4.2" fill="#222" textLength="1.80" lengthAdjust="spacingAndGlyphs" stroke="#222" stroke-width="0.12" >5</text>
<line x1="379.59" y1="97.60" x2="379.59" y2="100.00" stroke="#111" stroke-width="0.9" />
<line x1="305.20" y1="97.60" x2="305.20" y2="99.60" stroke="#111" stroke-width="0.9" />
<line x1="310.02" y1="97.60" x2="310.02" y2="99.00" stroke="#333" stroke-width="0.7" />
<line x1="314.03" y1="97.60" x2="314.03" y2="99.00" stroke="#333" stroke-width="0.7" />
<line x1="317.25" y1="97.60" x2="317.25" y2="99.00" stroke="#333" stroke-width="0.7" />
<line x1="334.31" y1="97.60" x2="334.31" y2="99.00" stroke="#333" stroke-width="0.7" />
<line x1="343.62" y1="97.60" x2="343.62" y2="99.00" stroke="#333" stroke-width="0.7" />
<line x1="351.08" y1="97.60" x2="351.08" y2="99.00" stroke="#333" stroke-width="0.7" />
<line x1="369.06" y1="97.60" x2="369.06" y2="99.00" stroke="#333" stroke-width="0.7" />
<line x1="374.33" y1="97.60" x2="374.33" y2="99.00" stroke="#333" stroke-width="0.7" />
<line x1="377.48" y1="97.60" x2="377.48" y2="99.00" stroke="#333" stroke-width="0.7" />
<text x="302.10" y="32.50" font-size="7.1" fill="#222" textLength="8.00" lengthAdjust="spacingAndGlyphs" stroke="#222" stroke-width="0.12" >Q1</text>
<text x="302.10" y="40.00" font-size="7.1" fill="#222" textLength="12.30" lengthAdjust="spacingAndGlyphs" stroke="#222" stroke-width="0.12" >56.1</text>
<text x="374.60" y="32.50" font-size="7.1" fill="#222" textLength="8.40" lengthAdjust="spacingAndGlyphs" stroke="#222" stroke-width="0.12" >Q2</text>
<text x="370.70" y="40.00" font-size="7.1" fill="#222" textLength="12.30" lengthAdjust="spacingAndGlyphs" stroke="#222" stroke-width="0.12" >40.4</text>
<text x="302.10" y="88.00" font-size="7.1" fill="#222" textLength="8.60" lengthAdjust="spacingAndGlyphs" stroke="#222" stroke-width="0.12" >Q4</text>
<text x="302.10" y="95.20" font-size="7.1" fill="#222" textLength="12.30" lengthAdjust="spacingAndGlyphs" stroke="#222" stroke-width="0.12" >0.47</text>
<text x="374.60" y="88.00" font-size="7.1" fill="#222" textLength="8.40" lengthAdjust="spacingAndGlyphs" stroke="#222" stroke-width="0.12" >Q3</text>
<text x="370.70" y="95.20" font-size="7.1" fill="#222" textLength="12.30" lengthAdjust="spacingAndGlyphs" stroke="#222" stroke-width="0.12" >3.04</text>
<g clip-path="url(#clip03)"><g filter="url(#bl)"><path d="M444,47 L454,51.5 L444,56 Z" fill="#d0d0d0" stroke="#999" stroke-width="0.4"/><path d="M405.00,38.40 C443.70,38.40 450.00,43.34 450.00,51.40 C450.00,59.71 443.70,64.80 405.00,64.80 Z" fill="#cfcfcf" stroke="#4a4a4a" stroke-width="0.4"/><path d="M405.00,39.00 C441.55,39.00 447.50,43.64 447.50,51.20 C447.50,58.76 441.55,63.40 405.00,63.40 Z" fill="#b4b4b4" stroke="#4a4a4a" stroke-width="0.4"/><path d="M405.00,39.80 C438.97,39.80 444.50,44.06 444.50,51.00 C444.50,57.82 438.97,62.00 405.00,62.00 Z" fill="#a2a2a2" stroke="#4a4a4a" stroke-width="0.4"/><path d="M405.00,40.60 C435.53,40.60 440.50,44.40 440.50,50.60 C440.50,56.68 435.53,60.40 405.00,60.40 Z" fill="#959595" stroke="#4a4a4a" stroke-width="0.4"/><path d="M405.00,41.60 C430.80,41.60 435.00,44.87 435.00,50.20 C435.00,55.41 430.80,58.60 405.00,58.60 Z" fill="#8a8a8a" stroke="#4a4a4a" stroke-width="0.4"/><path d="M405.00,42.80 C423.92,42.80 427.00,45.46 427.00,49.80 C427.00,53.89 423.92,56.40 405.00,56.40 Z" fill="#808080" stroke="#4a4a4a" stroke-width="0.4"/><path d="M413,46.5 C420,47.5 428,49 438,50" fill="none" stroke="#bdbdbd" stroke-width="1.1"/><ellipse cx="417" cy="41.5" rx="5.5" ry="3.0" fill="#404040" stroke="none" stroke-width="0.5"/><rect x="413.3" y="39.5" width="1.8" height="11" rx="0" fill="#2a2a2a"/><path d="M455,43 C462,41.5 474,41.5 481.5,43.5 C483.5,48 482.5,55 478.5,60 C475.5,64 472.5,68 469.5,70.5 C465,67 458.5,58 455,50 Z" fill="#ececec" stroke="#7a7a7a" stroke-width="0.6"/><path d="M458,45.5 C465,44 474,44.5 479.5,46.5 C481,51 480,56 476.5,60 C474,63 471.5,65.5 469.5,67 C466,63 461,56 458,49.5 Z" fill="none" stroke="#8c8c8c" stroke-width="0.5"/><path d="M461,47.5 C467,46.5 474,47 478,49 C479,53 477.5,57 475,60 C473,62 471,63.5 469.5,64 C467,60 463.5,55 461,50.5 Z" fill="#dedede" stroke="#8a8a8a" stroke-width="0.5"/><path d="M464.5,50 C469,49.5 473,50 475.5,51.5 C476,54 474.5,57 472.5,59 C471.5,60 470.5,61 469.5,61 C468,57.5 466,54 464.5,51.5 Z" fill="none" stroke="#909090" stroke-width="0.5"/><path d="M457,45 C459,48 461,51 464,53" fill="none" stroke="#6a6a6a" stroke-width="0.8"/><line x1="482.5" y1="46.5" x2="475" y2="65" stroke="#6a6a6a" stroke-width="0.7"/></g></g>
<line x1="453.40" y1="25.50" x2="453.40" y2="94.20" stroke="#b4b4b4" stroke-width="1.1" />
<line x1="413.30" y1="67.80" x2="499.50" y2="67.80" stroke="#bdbdbd" stroke-width="1.1" />
<rect x="413.30" y="25.50" width="86.20" height="68.70" fill="none" stroke="#9a9a9a" stroke-width="0.9"/>
<line x1="413.30" y1="25.50" x2="413.30" y2="94.20" stroke="#222" stroke-width="0.9" />
<line x1="413.30" y1="94.20" x2="499.50" y2="94.20" stroke="#222" stroke-width="0.9" />
<line x1="410.90" y1="31.99" x2="413.30" y2="31.99" stroke="#111" stroke-width="0.9" />
<text x="399.90" y="35.49" font-size="6.9" fill="#222" textLength="6.60" lengthAdjust="spacingAndGlyphs" stroke="#222" stroke-width="0.12" >10</text>
<text x="407.10" y="31.99" font-size="4.0" fill="#222" textLength="1.90" lengthAdjust="spacingAndGlyphs" stroke="#222" stroke-width="0.12" >5</text>
<line x1="410.90" y1="48.21" x2="413.30" y2="48.21" stroke="#111" stroke-width="0.9" />
<text x="399.90" y="51.71" font-size="6.9" fill="#222" textLength="6.60" lengthAdjust="spacingAndGlyphs" stroke="#222" stroke-width="0.12" >10</text>
<text x="407.10" y="48.21" font-size="4.0" fill="#222" textLength="1.90" lengthAdjust="spacingAndGlyphs" stroke="#222" stroke-width="0.12" >4</text>
<line x1="410.90" y1="66.72" x2="413.30" y2="66.72" stroke="#111" stroke-width="0.9" />
<text x="399.90" y="70.22" font-size="6.9" fill="#222" textLength="6.60" lengthAdjust="spacingAndGlyphs" stroke="#222" stroke-width="0.12" >10</text>
<text x="407.10" y="66.72" font-size="4.0" fill="#222" textLength="1.90" lengthAdjust="spacingAndGlyphs" stroke="#222" stroke-width="0.12" >3</text>
<line x1="410.90" y1="77.98" x2="413.30" y2="77.98" stroke="#111" stroke-width="0.9" />
<text x="405.20" y="80.48" font-size="7.0" fill="#222" textLength="3.40" lengthAdjust="spacingAndGlyphs" stroke="#222" stroke-width="0.12" >0</text>
<rect x="411.00" y="76.58" width="2.30" height="2.80" fill="#000" />
<line x1="410.90" y1="89.33" x2="413.30" y2="89.33" stroke="#111" stroke-width="0.9" />
<text x="395.70" y="92.83" font-size="6.9" fill="#222" textLength="10.80" lengthAdjust="spacingAndGlyphs" stroke="#222" stroke-width="0.12" >−10</text>
<text x="406.90" y="89.73" font-size="4.0" fill="#222" textLength="1.80" lengthAdjust="spacingAndGlyphs" stroke="#222" stroke-width="0.12" >3</text>
<line x1="411.90" y1="40.42" x2="413.30" y2="40.42" stroke="#333" stroke-width="0.7" />
<line x1="411.90" y1="43.18" x2="413.30" y2="43.18" stroke="#333" stroke-width="0.7" />
<line x1="411.90" y1="45.94" x2="413.30" y2="45.94" stroke="#333" stroke-width="0.7" />
<line x1="411.90" y1="57.83" x2="413.30" y2="57.83" stroke="#333" stroke-width="0.7" />
<line x1="411.90" y1="60.98" x2="413.30" y2="60.98" stroke="#333" stroke-width="0.7" />
<line x1="411.90" y1="64.13" x2="413.30" y2="64.13" stroke="#333" stroke-width="0.7" />
<line x1="411.90" y1="72.57" x2="413.30" y2="72.57" stroke="#333" stroke-width="0.7" />
<line x1="411.90" y1="74.49" x2="413.30" y2="74.49" stroke="#333" stroke-width="0.7" />
<line x1="411.90" y1="76.40" x2="413.30" y2="76.40" stroke="#333" stroke-width="0.7" />
<line x1="411.90" y1="81.73" x2="413.30" y2="81.73" stroke="#333" stroke-width="0.7" />
<line x1="411.90" y1="85.47" x2="413.30" y2="85.47" stroke="#333" stroke-width="0.7" />
<line x1="411.90" y1="70.44" x2="413.30" y2="70.44" stroke="#333" stroke-width="0.7" />
<line x1="411.90" y1="74.15" x2="413.30" y2="74.15" stroke="#333" stroke-width="0.7" />
<text x="432.21" y="107.70" font-size="7.2" fill="#222" textLength="3.50" lengthAdjust="spacingAndGlyphs" stroke="#222" stroke-width="0.12" >0</text>
<rect x="430.81" y="94.20" width="4.10" height="1.90" fill="#000" />
<text x="465.37" y="107.40" font-size="7.4" fill="#222" textLength="6.80" lengthAdjust="spacingAndGlyphs" stroke="#222" stroke-width="0.12" >10</text>
<text x="472.57" y="104.10" font-size="4.2" fill="#222" textLength="1.80" lengthAdjust="spacingAndGlyphs" stroke="#222" stroke-width="0.12" >4</text>
<line x1="470.37" y1="94.20" x2="470.37" y2="96.60" stroke="#111" stroke-width="0.9" />
<text x="485.98" y="107.40" font-size="7.4" fill="#222" textLength="6.80" lengthAdjust="spacingAndGlyphs" stroke="#222" stroke-width="0.12" >10</text>
<text x="493.18" y="104.10" font-size="4.2" fill="#222" textLength="1.80" lengthAdjust="spacingAndGlyphs" stroke="#222" stroke-width="0.12" >5</text>
<line x1="490.98" y1="94.20" x2="490.98" y2="96.60" stroke="#111" stroke-width="0.9" />
<line x1="418.30" y1="94.20" x2="418.30" y2="96.20" stroke="#111" stroke-width="0.9" />
<line x1="422.98" y1="94.20" x2="422.98" y2="95.60" stroke="#333" stroke-width="0.7" />
<line x1="426.88" y1="94.20" x2="426.88" y2="95.60" stroke="#333" stroke-width="0.7" />
<line x1="430.01" y1="94.20" x2="430.01" y2="95.60" stroke="#333" stroke-width="0.7" />
<line x1="446.67" y1="94.20" x2="446.67" y2="95.60" stroke="#333" stroke-width="0.7" />
<line x1="455.79" y1="94.20" x2="455.79" y2="95.60" stroke="#333" stroke-width="0.7" />
<line x1="463.08" y1="94.20" x2="463.08" y2="95.60" stroke="#333" stroke-width="0.7" />
<line x1="480.67" y1="94.20" x2="480.67" y2="95.60" stroke="#333" stroke-width="0.7" />
<line x1="485.83" y1="94.20" x2="485.83" y2="95.60" stroke="#333" stroke-width="0.7" />
<line x1="488.92" y1="94.20" x2="488.92" y2="95.60" stroke="#333" stroke-width="0.7" />
<text x="416.10" y="32.50" font-size="7.1" fill="#222" textLength="8.00" lengthAdjust="spacingAndGlyphs" stroke="#222" stroke-width="0.12" >Q1</text>
<text x="416.10" y="40.00" font-size="7.1" fill="#222" textLength="12.30" lengthAdjust="spacingAndGlyphs" stroke="#222" stroke-width="0.12" >87.4</text>
<text x="487.30" y="32.50" font-size="7.1" fill="#222" textLength="8.40" lengthAdjust="spacingAndGlyphs" stroke="#222" stroke-width="0.12" >Q2</text>
<text x="483.40" y="40.00" font-size="7.1" fill="#222" textLength="12.30" lengthAdjust="spacingAndGlyphs" stroke="#222" stroke-width="0.12" >11.7</text>
<text x="416.10" y="84.60" font-size="7.1" fill="#222" textLength="8.60" lengthAdjust="spacingAndGlyphs" stroke="#222" stroke-width="0.12" >Q4</text>
<text x="416.10" y="91.80" font-size="7.1" fill="#222" textLength="15.90" lengthAdjust="spacingAndGlyphs" stroke="#222" stroke-width="0.12" >0.043</text>
<text x="487.30" y="84.60" font-size="7.1" fill="#222" textLength="8.40" lengthAdjust="spacingAndGlyphs" stroke="#222" stroke-width="0.12" >Q3</text>
<text x="483.40" y="91.80" font-size="7.1" fill="#222" textLength="12.30" lengthAdjust="spacingAndGlyphs" stroke="#222" stroke-width="0.12" >0.90</text>
<g clip-path="url(#clip10)"><g filter="url(#bl)"><path d="M76.00,139.00 C79.00,135.42 88.50,138.33 95.00,138.50 C101.50,138.67 109.17,139.50 115.00,140.00 C120.83,140.50 126.50,140.58 130.00,141.50 C133.50,142.42 136.00,144.00 136.00,145.50 C136.00,147.00 134.33,149.50 130.00,150.50 C125.67,151.50 115.00,150.58 110.00,151.50 C105.00,152.42 102.33,154.08 100.00,156.00 C97.67,157.92 98.33,161.67 96.00,163.00 C93.67,164.33 89.17,164.50 86.00,164.00 C82.83,163.50 78.67,164.17 77.00,160.00 C75.33,155.83 73.00,142.58 76.00,139.00 Z" fill="#f3f3f3" stroke="none" stroke-width="0.5"/><ellipse cx="111.0" cy="145.5" rx="24.0" ry="5.6" fill="#f2f2f2" stroke="#787878" stroke-width="0.6"/><ellipse cx="112.5" cy="145.5" rx="17.28" ry="4.03" fill="none" stroke="#787878" stroke-width="0.6"/><ellipse cx="114.0" cy="145.5" rx="10.56" ry="2.46" fill="none" stroke="#787878" stroke-width="0.6"/><ellipse cx="115.5" cy="145.5" rx="3.84" ry="0.9" fill="none" stroke="#787878" stroke-width="0.6"/><ellipse cx="83" cy="146" rx="4" ry="2.6" fill="none" stroke="#7a7a7a" stroke-width="0.6"/><path d="M77,143 C75,150 78,158 84,163" fill="none" stroke="#7a7a7a" stroke-width="0.6"/><path d="M81,149 C80,154 83,159 88,162 C92,163 95,160 94,156" fill="none" stroke="#7a7a7a" stroke-width="0.6"/><path d="M90,150 C89,155 93,160 99,161 C103,160 103,155 100,151" fill="none" stroke="#808080" stroke-width="0.6"/><path d="M95,152 C95,156 98,158 100,157" fill="none" stroke="#999" stroke-width="0.5"/><path d="M72.00,178.00 C73.33,175.87 77.00,175.58 80.00,174.50 C83.00,173.42 86.83,172.12 90.00,171.50 C93.17,170.88 96.33,170.55 99.00,170.80 C101.67,171.05 104.00,171.88 106.00,173.00 C108.00,174.12 109.87,176.00 111.00,177.50 C112.13,179.00 112.97,180.53 112.80,182.00 C112.63,183.47 112.13,185.42 110.00,186.30 C107.87,187.18 104.17,187.13 100.00,187.30 C95.83,187.47 89.67,187.30 85.00,187.30 C80.33,187.30 74.17,188.85 72.00,187.30 C69.83,185.75 70.67,180.13 72.00,178.00 Z" fill="#e2e2e2" stroke="#707070" stroke-width="0.5"/><path d="M74.80,178.56 C75.95,176.58 79.10,176.31 81.68,175.31 C84.26,174.30 87.56,173.09 90.28,172.51 C93.00,171.94 95.73,171.63 98.02,171.86 C100.31,172.10 102.32,172.87 104.04,173.91 C105.76,174.95 107.37,176.70 108.34,178.09 C109.31,179.49 110.03,180.92 109.89,182.28 C109.74,183.64 109.31,185.46 107.48,186.28 C105.65,187.10 102.46,187.05 98.88,187.21 C95.30,187.36 89.99,187.21 85.98,187.21 C81.97,187.21 76.66,188.65 74.80,187.21 C72.94,185.77 73.65,180.54 74.80,178.56 Z" fill="#c4c4c4" stroke="#707070" stroke-width="0.5"/><path d="M77.60,179.12 C78.56,177.29 81.20,177.04 83.36,176.11 C85.52,175.18 88.28,174.06 90.56,173.53 C92.84,173.00 95.12,172.71 97.04,172.93 C98.96,173.14 100.64,173.86 102.08,174.82 C103.52,175.78 104.86,177.40 105.68,178.69 C106.50,179.98 107.10,181.30 106.98,182.56 C106.86,183.82 106.50,185.50 104.96,186.26 C103.42,187.02 100.76,186.97 97.76,187.12 C94.76,187.26 90.32,187.12 86.96,187.12 C83.60,187.12 79.16,188.45 77.60,187.12 C76.04,185.79 76.64,180.95 77.60,179.12 Z" fill="#9e9e9e" stroke="#606060" stroke-width="0.5"/><ellipse cx="95" cy="182.4" rx="13.0" ry="4.199999999999999" fill="#6a6a6a" stroke="#444" stroke-width="0.3"/><ellipse cx="95" cy="182.4" rx="10.5" ry="2.9" fill="#343434" stroke="none" stroke-width="0.5"/><ellipse cx="95" cy="182.4" rx="8.5" ry="1.9" fill="#141414" stroke="none" stroke-width="0.5"/><line x1="92.025" y1="182.3" x2="97.55" y2="182.3" stroke="#6a6a6a" stroke-width="0.6"/><ellipse cx="124.2" cy="180.8" rx="8" ry="3.3" fill="#f0f0f0" stroke="#a0a0a0" stroke-width="0.6" transform="rotate(-6 124.2 180.8)"/><ellipse cx="123.7" cy="181.0" rx="5.44" ry="2.046" fill="#f4f4f4" stroke="#a4a4a4" stroke-width="0.5" transform="rotate(-6 123.7 181.0)"/><ellipse cx="123.2" cy="181.10000000000002" rx="2.8" ry="0.9899999999999999" fill="none" stroke="#b0b0b0" stroke-width="0.45" transform="rotate(-6 123.2 181.10000000000002)"/></g></g>
<line x1="114.60" y1="128.10" x2="114.60" y2="199.50" stroke="#555" stroke-width="1.1" />
<line x1="75.40" y1="165.80" x2="162.50" y2="165.80" stroke="#555" stroke-width="1.1" />
<rect x="75.40" y="128.10" width="87.10" height="71.40" fill="none" stroke="#9a9a9a" stroke-width="0.9"/>
<line x1="75.40" y1="128.10" x2="75.40" y2="199.50" stroke="#222" stroke-width="0.9" />
<line x1="75.40" y1="199.50" x2="162.50" y2="199.50" stroke="#222" stroke-width="0.9" />
<line x1="73.00" y1="134.84" x2="75.40" y2="134.84" stroke="#111" stroke-width="0.9" />
<text x="62.00" y="138.34" font-size="6.9" fill="#222" textLength="6.60" lengthAdjust="spacingAndGlyphs" stroke="#222" stroke-width="0.12" >10</text>
<text x="69.20" y="134.84" font-size="4.0" fill="#222" textLength="1.90" lengthAdjust="spacingAndGlyphs" stroke="#222" stroke-width="0.12" >5</text>
<line x1="73.00" y1="151.70" x2="75.40" y2="151.70" stroke="#111" stroke-width="0.9" />
<text x="62.00" y="155.20" font-size="6.9" fill="#222" textLength="6.60" lengthAdjust="spacingAndGlyphs" stroke="#222" stroke-width="0.12" >10</text>
<text x="69.20" y="151.70" font-size="4.0" fill="#222" textLength="1.90" lengthAdjust="spacingAndGlyphs" stroke="#222" stroke-width="0.12" >4</text>
<line x1="73.00" y1="170.94" x2="75.40" y2="170.94" stroke="#111" stroke-width="0.9" />
<text x="62.00" y="174.44" font-size="6.9" fill="#222" textLength="6.60" lengthAdjust="spacingAndGlyphs" stroke="#222" stroke-width="0.12" >10</text>
<text x="69.20" y="170.94" font-size="4.0" fill="#222" textLength="1.90" lengthAdjust="spacingAndGlyphs" stroke="#222" stroke-width="0.12" >3</text>
<line x1="73.00" y1="182.64" x2="75.40" y2="182.64" stroke="#111" stroke-width="0.9" />
<text x="67.30" y="185.14" font-size="7.0" fill="#222" textLength="3.40" lengthAdjust="spacingAndGlyphs" stroke="#222" stroke-width="0.12" >0</text>
<rect x="73.10" y="181.24" width="2.30" height="2.80" fill="#000" />
<line x1="73.00" y1="194.44" x2="75.40" y2="194.44" stroke="#111" stroke-width="0.9" />
<text x="57.80" y="197.94" font-size="6.9" fill="#222" textLength="10.80" lengthAdjust="spacingAndGlyphs" stroke="#222" stroke-width="0.12" >−10</text>
<text x="69.00" y="194.84" font-size="4.0" fill="#222" textLength="1.80" lengthAdjust="spacingAndGlyphs" stroke="#222" stroke-width="0.12" >3</text>
<line x1="74.00" y1="143.61" x2="75.40" y2="143.61" stroke="#333" stroke-width="0.7" />
<line x1="74.00" y1="146.48" x2="75.40" y2="146.48" stroke="#333" stroke-width="0.7" />
<line x1="74.00" y1="149.34" x2="75.40" y2="149.34" stroke="#333" stroke-width="0.7" />
<line x1="74.00" y1="161.71" x2="75.40" y2="161.71" stroke="#333" stroke-width="0.7" />
<line x1="74.00" y1="164.98" x2="75.40" y2="164.98" stroke="#333" stroke-width="0.7" />
<line x1="74.00" y1="168.25" x2="75.40" y2="168.25" stroke="#333" stroke-width="0.7" />
<line x1="74.00" y1="177.02" x2="75.40" y2="177.02" stroke="#333" stroke-width="0.7" />
<line x1="74.00" y1="179.01" x2="75.40" y2="179.01" stroke="#333" stroke-width="0.7" />
<line x1="74.00" y1="181.00" x2="75.40" y2="181.00" stroke="#333" stroke-width="0.7" />
<line x1="74.00" y1="186.54" x2="75.40" y2="186.54" stroke="#333" stroke-width="0.7" />
<line x1="74.00" y1="190.43" x2="75.40" y2="190.43" stroke="#333" stroke-width="0.7" />
<line x1="74.00" y1="174.80" x2="75.40" y2="174.80" stroke="#333" stroke-width="0.7" />
<line x1="74.00" y1="178.66" x2="75.40" y2="178.66" stroke="#333" stroke-width="0.7" />
<text x="94.52" y="213.00" font-size="7.2" fill="#222" textLength="3.50" lengthAdjust="spacingAndGlyphs" stroke="#222" stroke-width="0.12" >0</text>
<rect x="93.12" y="199.50" width="4.10" height="1.90" fill="#000" />
<text x="128.07" y="212.70" font-size="7.4" fill="#222" textLength="6.80" lengthAdjust="spacingAndGlyphs" stroke="#222" stroke-width="0.12" >10</text>
<text x="135.27" y="209.40" font-size="4.2" fill="#222" textLength="1.80" lengthAdjust="spacingAndGlyphs" stroke="#222" stroke-width="0.12" >4</text>
<line x1="133.07" y1="199.50" x2="133.07" y2="201.90" stroke="#111" stroke-width="0.9" />
<text x="148.89" y="212.70" font-size="7.4" fill="#222" textLength="6.80" lengthAdjust="spacingAndGlyphs" stroke="#222" stroke-width="0.12" >10</text>
<text x="156.09" y="209.40" font-size="4.2" fill="#222" textLength="1.80" lengthAdjust="spacingAndGlyphs" stroke="#222" stroke-width="0.12" >5</text>
<line x1="153.89" y1="199.50" x2="153.89" y2="201.90" stroke="#111" stroke-width="0.9" />
<line x1="80.40" y1="199.50" x2="80.40" y2="201.50" stroke="#111" stroke-width="0.9" />
<line x1="85.15" y1="199.50" x2="85.15" y2="200.90" stroke="#333" stroke-width="0.7" />
<line x1="89.10" y1="199.50" x2="89.10" y2="200.90" stroke="#333" stroke-width="0.7" />
<line x1="92.27" y1="199.50" x2="92.27" y2="200.90" stroke="#333" stroke-width="0.7" />
<line x1="109.12" y1="199.50" x2="109.12" y2="200.90" stroke="#333" stroke-width="0.7" />
<line x1="118.33" y1="199.50" x2="118.33" y2="200.90" stroke="#333" stroke-width="0.7" />
<line x1="125.70" y1="199.50" x2="125.70" y2="200.90" stroke="#333" stroke-width="0.7" />
<line x1="143.48" y1="199.50" x2="143.48" y2="200.90" stroke="#333" stroke-width="0.7" />
<line x1="148.68" y1="199.50" x2="148.68" y2="200.90" stroke="#333" stroke-width="0.7" />
<line x1="151.81" y1="199.50" x2="151.81" y2="200.90" stroke="#333" stroke-width="0.7" />
<text x="77.00" y="135.10" font-size="7.1" fill="#222" textLength="8.00" lengthAdjust="spacingAndGlyphs" stroke="#222" stroke-width="0.12" >Q1</text>
<text x="77.00" y="142.60" font-size="7.1" fill="#222" textLength="12.30" lengthAdjust="spacingAndGlyphs" stroke="#222" stroke-width="0.12" >11.0</text>
<text x="148.00" y="135.10" font-size="7.1" fill="#222" textLength="8.40" lengthAdjust="spacingAndGlyphs" stroke="#222" stroke-width="0.12" >Q2</text>
<text x="144.10" y="142.60" font-size="7.1" fill="#222" textLength="12.30" lengthAdjust="spacingAndGlyphs" stroke="#222" stroke-width="0.12" >2.41</text>
<text x="77.00" y="189.90" font-size="7.1" fill="#222" textLength="8.60" lengthAdjust="spacingAndGlyphs" stroke="#222" stroke-width="0.12" >Q4</text>
<text x="77.00" y="197.10" font-size="7.1" fill="#222" textLength="12.30" lengthAdjust="spacingAndGlyphs" stroke="#222" stroke-width="0.12" >84.9</text>
<text x="148.00" y="189.90" font-size="7.1" fill="#222" textLength="8.40" lengthAdjust="spacingAndGlyphs" stroke="#222" stroke-width="0.12" >Q3</text>
<text x="144.10" y="197.10" font-size="7.1" fill="#222" textLength="12.30" lengthAdjust="spacingAndGlyphs" stroke="#222" stroke-width="0.12" >1.71</text>
<g clip-path="url(#clip11)"><g filter="url(#bl)"><ellipse cx="221.0" cy="145.5" rx="28.0" ry="5.7" fill="#f2f2f2" stroke="#787878" stroke-width="0.6"/><ellipse cx="222.5" cy="145.5" rx="20.16" ry="4.1" fill="none" stroke="#787878" stroke-width="0.6"/><ellipse cx="224.0" cy="145.5" rx="12.32" ry="2.51" fill="none" stroke="#787878" stroke-width="0.6"/><ellipse cx="225.5" cy="145.5" rx="4.48" ry="0.91" fill="none" stroke="#787878" stroke-width="0.6"/><ellipse cx="197" cy="146.5" rx="4" ry="2.6" fill="none" stroke="#7a7a7a" stroke-width="0.6"/><path d="M190,143 C188,150 191,158 197,163" fill="none" stroke="#7a7a7a" stroke-width="0.6"/><path d="M194,150 C193,155 196,160 201,162" fill="none" stroke="#808080" stroke-width="0.6"/><ellipse cx="206" cy="163.5" rx="4.2" ry="7" fill="none" stroke="#7a7a7a" stroke-width="0.6"/><ellipse cx="206" cy="164.5" rx="2" ry="3.5" fill="none" stroke="#999" stroke-width="0.5"/><path d="M186.00,180.00 C187.00,178.37 189.67,178.42 192.00,177.50 C194.33,176.58 197.33,175.12 200.00,174.50 C202.67,173.88 205.33,173.72 208.00,173.80 C210.67,173.88 213.67,174.22 216.00,175.00 C218.33,175.78 220.40,177.33 222.00,178.50 C223.60,179.67 225.60,180.70 225.60,182.00 C225.60,183.30 224.27,185.42 222.00,186.30 C219.73,187.18 216.00,187.13 212.00,187.30 C208.00,187.47 202.33,187.30 198.00,187.30 C193.67,187.30 188.00,188.52 186.00,187.30 C184.00,186.08 185.00,181.63 186.00,180.00 Z" fill="#e2e2e2" stroke="#707070" stroke-width="0.5"/><path d="M188.66,180.42 C189.52,178.90 191.81,178.95 193.82,178.09 C195.83,177.24 198.41,175.88 200.70,175.31 C202.99,174.73 205.29,174.58 207.58,174.65 C209.87,174.73 212.45,175.04 214.46,175.77 C216.47,176.50 218.24,177.94 219.62,179.03 C221.00,180.11 222.72,181.07 222.72,182.28 C222.72,183.49 221.57,185.46 219.62,186.28 C217.67,187.10 214.46,187.05 211.02,187.21 C207.58,187.36 202.71,187.21 198.98,187.21 C195.25,187.21 190.38,188.34 188.66,187.21 C186.94,186.08 187.80,181.94 188.66,180.42 Z" fill="#c4c4c4" stroke="#707070" stroke-width="0.5"/><path d="M191.32,180.84 C192.04,179.44 193.96,179.48 195.64,178.69 C197.32,177.90 199.48,176.64 201.40,176.11 C203.32,175.58 205.24,175.44 207.16,175.51 C209.08,175.58 211.24,175.87 212.92,176.54 C214.60,177.21 216.09,178.55 217.24,179.55 C218.39,180.55 219.83,181.44 219.83,182.56 C219.83,183.68 218.87,185.50 217.24,186.26 C215.61,187.02 212.92,186.97 210.04,187.12 C207.16,187.26 203.08,187.12 199.96,187.12 C196.84,187.12 192.76,188.16 191.32,187.12 C189.88,186.07 190.60,182.24 191.32,180.84 Z" fill="#9e9e9e" stroke="#606060" stroke-width="0.5"/><ellipse cx="208.5" cy="182.6" rx="14.0" ry="4.4" fill="#6a6a6a" stroke="#444" stroke-width="0.3"/><ellipse cx="208.5" cy="182.6" rx="11.5" ry="3.1" fill="#343434" stroke="none" stroke-width="0.5"/><ellipse cx="208.5" cy="182.6" rx="9.5" ry="2.1" fill="#141414" stroke="none" stroke-width="0.5"/><line x1="205.175" y1="182.5" x2="211.35" y2="182.5" stroke="#6a6a6a" stroke-width="0.6"/><ellipse cx="239.5" cy="180" rx="9.8" ry="4.6" fill="#f0f0f0" stroke="#a0a0a0" stroke-width="0.6" transform="rotate(-10 239.5 180)"/><ellipse cx="239.0" cy="180.2" rx="6.664000000000001" ry="2.852" fill="#d8d8d8" stroke="#a4a4a4" stroke-width="0.5" transform="rotate(-10 239.0 180.2)"/><ellipse cx="238.5" cy="180.3" rx="3.43" ry="1.38" fill="none" stroke="#b0b0b0" stroke-width="0.45" transform="rotate(-10 238.5 180.3)"/></g></g>
<line x1="228.60" y1="128.10" x2="228.60" y2="199.50" stroke="#555" stroke-width="1.1" />
<line x1="187.70" y1="165.40" x2="275.00" y2="165.40" stroke="#555" stroke-width="1.1" />
<rect x="187.70" y="128.10" width="87.30" height="71.40" fill="none" stroke="#9a9a9a" stroke-width="0.9"/>
<line x1="187.70" y1="128.10" x2="187.70" y2="199.50" stroke="#222" stroke-width="0.9" />
<line x1="187.70" y1="199.50" x2="275.00" y2="199.50" stroke="#222" stroke-width="0.9" />
<line x1="185.30" y1="134.84" x2="187.70" y2="134.84" stroke="#111" stroke-width="0.9" />
<text x="174.30" y="138.34" font-size="6.9" fill="#222" textLength="6.60" lengthAdjust="spacingAndGlyphs" stroke="#222" stroke-width="0.12" >10</text>
<text x="181.50" y="134.84" font-size="4.0" fill="#222" textLength="1.90" lengthAdjust="spacingAndGlyphs" stroke="#222" stroke-width="0.12" >5</text>
<line x1="185.30" y1="151.70" x2="187.70" y2="151.70" stroke="#111" stroke-width="0.9" />
<text x="174.30" y="155.20" font-size="6.9" fill="#222" textLength="6.60" lengthAdjust="spacingAndGlyphs" stroke="#222" stroke-width="0.12" >10</text>
<text x="181.50" y="151.70" font-size="4.0" fill="#222" textLength="1.90" lengthAdjust="spacingAndGlyphs" stroke="#222" stroke-width="0.12" >4</text>
<line x1="185.30" y1="170.94" x2="187.70" y2="170.94" stroke="#111" stroke-width="0.9" />
<text x="174.30" y="174.44" font-size="6.9" fill="#222" textLength="6.60" lengthAdjust="spacingAndGlyphs" stroke="#222" stroke-width="0.12" >10</text>
<text x="181.50" y="170.94" font-size="4.0" fill="#222" textLength="1.90" lengthAdjust="spacingAndGlyphs" stroke="#222" stroke-width="0.12" >3</text>
<line x1="185.30" y1="182.64" x2="187.70" y2="182.64" stroke="#111" stroke-width="0.9" />
<text x="179.60" y="185.14" font-size="7.0" fill="#222" textLength="3.40" lengthAdjust="spacingAndGlyphs" stroke="#222" stroke-width="0.12" >0</text>
<rect x="185.40" y="181.24" width="2.30" height="2.80" fill="#000" />
<line x1="185.30" y1="194.44" x2="187.70" y2="194.44" stroke="#111" stroke-width="0.9" />
<text x="170.10" y="197.94" font-size="6.9" fill="#222" textLength="10.80" lengthAdjust="spacingAndGlyphs" stroke="#222" stroke-width="0.12" >−10</text>
<text x="181.30" y="194.84" font-size="4.0" fill="#222" textLength="1.80" lengthAdjust="spacingAndGlyphs" stroke="#222" stroke-width="0.12" >3</text>
<line x1="186.30" y1="143.61" x2="187.70" y2="143.61" stroke="#333" stroke-width="0.7" />
<line x1="186.30" y1="146.48" x2="187.70" y2="146.48" stroke="#333" stroke-width="0.7" />
<line x1="186.30" y1="149.34" x2="187.70" y2="149.34" stroke="#333" stroke-width="0.7" />
<line x1="186.30" y1="161.71" x2="187.70" y2="161.71" stroke="#333" stroke-width="0.7" />
<line x1="186.30" y1="164.98" x2="187.70" y2="164.98" stroke="#333" stroke-width="0.7" />
<line x1="186.30" y1="168.25" x2="187.70" y2="168.25" stroke="#333" stroke-width="0.7" />
<line x1="186.30" y1="177.02" x2="187.70" y2="177.02" stroke="#333" stroke-width="0.7" />
<line x1="186.30" y1="179.01" x2="187.70" y2="179.01" stroke="#333" stroke-width="0.7" />
<line x1="186.30" y1="181.00" x2="187.70" y2="181.00" stroke="#333" stroke-width="0.7" />
<line x1="186.30" y1="186.54" x2="187.70" y2="186.54" stroke="#333" stroke-width="0.7" />
<line x1="186.30" y1="190.43" x2="187.70" y2="190.43" stroke="#333" stroke-width="0.7" />
<line x1="186.30" y1="174.80" x2="187.70" y2="174.80" stroke="#333" stroke-width="0.7" />
<line x1="186.30" y1="178.66" x2="187.70" y2="178.66" stroke="#333" stroke-width="0.7" />
<text x="206.87" y="213.00" font-size="7.2" fill="#222" textLength="3.50" lengthAdjust="spacingAndGlyphs" stroke="#222" stroke-width="0.12" >0</text>
<rect x="205.47" y="199.50" width="4.10" height="1.90" fill="#000" />
<text x="240.50" y="212.70" font-size="7.4" fill="#222" textLength="6.80" lengthAdjust="spacingAndGlyphs" stroke="#222" stroke-width="0.12" >10</text>
<text x="247.70" y="209.40" font-size="4.2" fill="#222" textLength="1.80" lengthAdjust="spacingAndGlyphs" stroke="#222" stroke-width="0.12" >4</text>
<line x1="245.50" y1="199.50" x2="245.50" y2="201.90" stroke="#111" stroke-width="0.9" />
<text x="261.37" y="212.70" font-size="7.4" fill="#222" textLength="6.80" lengthAdjust="spacingAndGlyphs" stroke="#222" stroke-width="0.12" >10</text>
<text x="268.57" y="209.40" font-size="4.2" fill="#222" textLength="1.80" lengthAdjust="spacingAndGlyphs" stroke="#222" stroke-width="0.12" >5</text>
<line x1="266.37" y1="199.50" x2="266.37" y2="201.90" stroke="#111" stroke-width="0.9" />
<line x1="192.70" y1="199.50" x2="192.70" y2="201.50" stroke="#111" stroke-width="0.9" />
<line x1="197.46" y1="199.50" x2="197.46" y2="200.90" stroke="#333" stroke-width="0.7" />
<line x1="201.43" y1="199.50" x2="201.43" y2="200.90" stroke="#333" stroke-width="0.7" />
<line x1="204.60" y1="199.50" x2="204.60" y2="200.90" stroke="#333" stroke-width="0.7" />
<line x1="221.50" y1="199.50" x2="221.50" y2="200.90" stroke="#333" stroke-width="0.7" />
<line x1="230.73" y1="199.50" x2="230.73" y2="200.90" stroke="#333" stroke-width="0.7" />
<line x1="238.11" y1="199.50" x2="238.11" y2="200.90" stroke="#333" stroke-width="0.7" />
<line x1="255.93" y1="199.50" x2="255.93" y2="200.90" stroke="#333" stroke-width="0.7" />
<line x1="261.15" y1="199.50" x2="261.15" y2="200.90" stroke="#333" stroke-width="0.7" />
<line x1="264.28" y1="199.50" x2="264.28" y2="200.90" stroke="#333" stroke-width="0.7" />
<text x="190.20" y="135.10" font-size="7.1" fill="#222" textLength="8.00" lengthAdjust="spacingAndGlyphs" stroke="#222" stroke-width="0.12" >Q1</text>
<text x="190.20" y="142.60" font-size="7.1" fill="#222" textLength="12.30" lengthAdjust="spacingAndGlyphs" stroke="#222" stroke-width="0.12" >8.87</text>
<text x="262.20" y="135.10" font-size="7.1" fill="#222" textLength="8.40" lengthAdjust="spacingAndGlyphs" stroke="#222" stroke-width="0.12" >Q2</text>
<text x="258.30" y="142.60" font-size="7.1" fill="#222" textLength="12.30" lengthAdjust="spacingAndGlyphs" stroke="#222" stroke-width="0.12" >3.31</text>
<text x="190.20" y="189.90" font-size="7.1" fill="#222" textLength="8.60" lengthAdjust="spacingAndGlyphs" stroke="#222" stroke-width="0.12" >Q4</text>
<text x="190.20" y="197.10" font-size="7.1" fill="#222" textLength="12.30" lengthAdjust="spacingAndGlyphs" stroke="#222" stroke-width="0.12" >85.3</text>
<text x="262.20" y="189.90" font-size="7.1" fill="#222" textLength="8.40" lengthAdjust="spacingAndGlyphs" stroke="#222" stroke-width="0.12" >Q3</text>
<text x="258.30" y="197.10" font-size="7.1" fill="#222" textLength="12.30" lengthAdjust="spacingAndGlyphs" stroke="#222" stroke-width="0.12" >2.49</text>
<g clip-path="url(#clip12)"><g filter="url(#bl)"><ellipse cx="330" cy="146.5" rx="30.0" ry="5.0" fill="#f2f2f2" stroke="#787878" stroke-width="0.6"/><ellipse cx="332" cy="146.5" rx="21.6" ry="3.6" fill="none" stroke="#787878" stroke-width="0.6"/><ellipse cx="334" cy="146.5" rx="13.2" ry="2.2" fill="none" stroke="#787878" stroke-width="0.6"/><ellipse cx="336" cy="146.5" rx="4.8" ry="0.8" fill="none" stroke="#787878" stroke-width="0.6"/><ellipse cx="350.8" cy="147" rx="6" ry="2.6" fill="#d4d4d4" stroke="#999" stroke-width="0.6"/><ellipse cx="309" cy="146.5" rx="4" ry="2.6" fill="none" stroke="#7a7a7a" stroke-width="0.6"/><path d="M303,143 C301,150 304,158 310,163" fill="none" stroke="#7a7a7a" stroke-width="0.6"/><path d="M307,150 C306,155 309,160 314,162" fill="none" stroke="#808080" stroke-width="0.6"/><ellipse cx="317" cy="162" rx="5.5" ry="5.5" fill="none" stroke="#7a7a7a" stroke-width="0.6"/><ellipse cx="317" cy="163" rx="2.8" ry="2.8" fill="none" stroke="#999" stroke-width="0.5"/><path d="M298.00,178.00 C299.17,176.13 302.67,176.83 305.00,176.00 C307.33,175.17 309.83,173.70 312.00,173.00 C314.17,172.30 316.00,171.80 318.00,171.80 C320.00,171.80 321.83,172.13 324.00,173.00 C326.17,173.87 328.78,175.67 331.00,177.00 C333.22,178.33 336.80,179.53 337.30,181.00 C337.80,182.47 336.22,184.77 334.00,185.80 C331.78,186.83 328.00,186.97 324.00,187.20 C320.00,187.43 314.33,187.20 310.00,187.20 C305.67,187.20 300.00,188.73 298.00,187.20 C296.00,185.67 296.83,179.87 298.00,178.00 Z" fill="#e2e2e2" stroke="#707070" stroke-width="0.5"/><path d="M300.80,178.56 C301.80,176.82 304.81,177.47 306.82,176.70 C308.83,175.92 310.98,174.56 312.84,173.91 C314.70,173.26 316.28,172.79 318.00,172.79 C319.72,172.79 321.30,173.10 323.16,173.91 C325.02,174.72 327.27,176.39 329.18,177.63 C331.09,178.87 334.17,179.99 334.60,181.35 C335.03,182.71 333.67,184.85 331.76,185.81 C329.85,186.78 326.60,186.90 323.16,187.12 C319.72,187.33 314.85,187.12 311.12,187.12 C307.39,187.12 302.52,188.54 300.80,187.12 C299.08,185.69 299.80,180.30 300.80,178.56 Z" fill="#c4c4c4" stroke="#707070" stroke-width="0.5"/><path d="M303.60,179.12 C304.44,177.51 306.96,178.12 308.64,177.40 C310.32,176.68 312.12,175.42 313.68,174.82 C315.24,174.22 316.56,173.79 318.00,173.79 C319.44,173.79 320.76,174.07 322.32,174.82 C323.88,175.57 325.76,177.11 327.36,178.26 C328.96,179.41 331.54,180.44 331.90,181.70 C332.26,182.96 331.12,184.94 329.52,185.83 C327.92,186.72 325.20,186.83 322.32,187.03 C319.44,187.23 315.36,187.03 312.24,187.03 C309.12,187.03 305.04,188.35 303.60,187.03 C302.16,185.71 302.76,180.73 303.60,179.12 Z" fill="#9e9e9e" stroke="#606060" stroke-width="0.5"/><ellipse cx="316" cy="182.6" rx="17.0" ry="4.6" fill="#6a6a6a" stroke="#444" stroke-width="0.3"/><ellipse cx="316" cy="182.6" rx="14.5" ry="3.3" fill="#343434" stroke="none" stroke-width="0.5"/><ellipse cx="316" cy="182.6" rx="12.5" ry="2.3" fill="#141414" stroke="none" stroke-width="0.5"/><line x1="311.625" y1="182.5" x2="319.75" y2="182.5" stroke="#6a6a6a" stroke-width="0.6"/><ellipse cx="350.5" cy="180.3" rx="9.8" ry="4.4" fill="#f0f0f0" stroke="#a0a0a0" stroke-width="0.6" transform="rotate(-8 350.5 180.3)"/><ellipse cx="350.0" cy="180.5" rx="6.664000000000001" ry="2.728" fill="#d8d8d8" stroke="#a4a4a4" stroke-width="0.5" transform="rotate(-8 350.0 180.5)"/><ellipse cx="349.5" cy="180.60000000000002" rx="3.43" ry="1.32" fill="none" stroke="#b0b0b0" stroke-width="0.45" transform="rotate(-8 349.5 180.60000000000002)"/></g></g>
<line x1="340.60" y1="128.10" x2="340.60" y2="199.50" stroke="#555" stroke-width="1.1" />
<line x1="300.20" y1="165.40" x2="388.30" y2="165.40" stroke="#555" stroke-width="1.1" />
<rect x="300.20" y="128.10" width="88.10" height="71.40" fill="none" stroke="#9a9a9a" stroke-width="0.9"/>
<line x1="300.20" y1="128.10" x2="300.20" y2="199.50" stroke="#222" stroke-width="0.9" />
<line x1="300.20" y1="199.50" x2="388.30" y2="199.50" stroke="#222" stroke-width="0.9" />
<line x1="297.80" y1="134.84" x2="300.20" y2="134.84" stroke="#111" stroke-width="0.9" />
<text x="286.80" y="138.34" font-size="6.9" fill="#222" textLength="6.60" lengthAdjust="spacingAndGlyphs" stroke="#222" stroke-width="0.12" >10</text>
<text x="294.00" y="134.84" font-size="4.0" fill="#222" textLength="1.90" lengthAdjust="spacingAndGlyphs" stroke="#222" stroke-width="0.12" >5</text>
<line x1="297.80" y1="151.70" x2="300.20" y2="151.70" stroke="#111" stroke-width="0.9" />
<text x="286.80" y="155.20" font-size="6.9" fill="#222" textLength="6.60" lengthAdjust="spacingAndGlyphs" stroke="#222" stroke-width="0.12" >10</text>
<text x="294.00" y="151.70" font-size="4.0" fill="#222" textLength="1.90" lengthAdjust="spacingAndGlyphs" stroke="#222" stroke-width="0.12" >4</text>
<line x1="297.80" y1="170.94" x2="300.20" y2="170.94" stroke="#111" stroke-width="0.9" />
<text x="286.80" y="174.44" font-size="6.9" fill="#222" textLength="6.60" lengthAdjust="spacingAndGlyphs" stroke="#222" stroke-width="0.12" >10</text>
<text x="294.00" y="170.94" font-size="4.0" fill="#222" textLength="1.90" lengthAdjust="spacingAndGlyphs" stroke="#222" stroke-width="0.12" >3</text>
<line x1="297.80" y1="182.64" x2="300.20" y2="182.64" stroke="#111" stroke-width="0.9" />
<text x="292.10" y="185.14" font-size="7.0" fill="#222" textLength="3.40" lengthAdjust="spacingAndGlyphs" stroke="#222" stroke-width="0.12" >0</text>
<rect x="297.90" y="181.24" width="2.30" height="2.80" fill="#000" />
<line x1="297.80" y1="194.44" x2="300.20" y2="194.44" stroke="#111" stroke-width="0.9" />
<text x="282.60" y="197.94" font-size="6.9" fill="#222" textLength="10.80" lengthAdjust="spacingAndGlyphs" stroke="#222" stroke-width="0.12" >−10</text>
<text x="293.80" y="194.84" font-size="4.0" fill="#222" textLength="1.80" lengthAdjust="spacingAndGlyphs" stroke="#222" stroke-width="0.12" >3</text>
<line x1="298.80" y1="143.61" x2="300.20" y2="143.61" stroke="#333" stroke-width="0.7" />
<line x1="298.80" y1="146.48" x2="300.20" y2="146.48" stroke="#333" stroke-width="0.7" />
<line x1="298.80" y1="149.34" x2="300.20" y2="149.34" stroke="#333" stroke-width="0.7" />
<line x1="298.80" y1="161.71" x2="300.20" y2="161.71" stroke="#333" stroke-width="0.7" />
<line x1="298.80" y1="164.98" x2="300.20" y2="164.98" stroke="#333" stroke-width="0.7" />
<line x1="298.80" y1="168.25" x2="300.20" y2="168.25" stroke="#333" stroke-width="0.7" />
<line x1="298.80" y1="177.02" x2="300.20" y2="177.02" stroke="#333" stroke-width="0.7" />
<line x1="298.80" y1="179.01" x2="300.20" y2="179.01" stroke="#333" stroke-width="0.7" />
<line x1="298.80" y1="181.00" x2="300.20" y2="181.00" stroke="#333" stroke-width="0.7" />
<line x1="298.80" y1="186.54" x2="300.20" y2="186.54" stroke="#333" stroke-width="0.7" />
<line x1="298.80" y1="190.43" x2="300.20" y2="190.43" stroke="#333" stroke-width="0.7" />
<line x1="298.80" y1="174.80" x2="300.20" y2="174.80" stroke="#333" stroke-width="0.7" />
<line x1="298.80" y1="178.66" x2="300.20" y2="178.66" stroke="#333" stroke-width="0.7" />
<text x="319.56" y="213.00" font-size="7.2" fill="#222" textLength="3.50" lengthAdjust="spacingAndGlyphs" stroke="#222" stroke-width="0.12" >0</text>
<rect x="318.16" y="199.50" width="4.10" height="1.90" fill="#000" />
<text x="353.53" y="212.70" font-size="7.4" fill="#222" textLength="6.80" lengthAdjust="spacingAndGlyphs" stroke="#222" stroke-width="0.12" >10</text>
<text x="360.73" y="209.40" font-size="4.2" fill="#222" textLength="1.80" lengthAdjust="spacingAndGlyphs" stroke="#222" stroke-width="0.12" >4</text>
<line x1="358.53" y1="199.50" x2="358.53" y2="201.90" stroke="#111" stroke-width="0.9" />
<text x="374.59" y="212.70" font-size="7.4" fill="#222" textLength="6.80" lengthAdjust="spacingAndGlyphs" stroke="#222" stroke-width="0.12" >10</text>
<text x="381.79" y="209.40" font-size="4.2" fill="#222" textLength="1.80" lengthAdjust="spacingAndGlyphs" stroke="#222" stroke-width="0.12" >5</text>
<line x1="379.59" y1="199.50" x2="379.59" y2="201.90" stroke="#111" stroke-width="0.9" />
<line x1="305.20" y1="199.50" x2="305.20" y2="201.50" stroke="#111" stroke-width="0.9" />
<line x1="310.02" y1="199.50" x2="310.02" y2="200.90" stroke="#333" stroke-width="0.7" />
<line x1="314.03" y1="199.50" x2="314.03" y2="200.90" stroke="#333" stroke-width="0.7" />
<line x1="317.25" y1="199.50" x2="317.25" y2="200.90" stroke="#333" stroke-width="0.7" />
<line x1="334.31" y1="199.50" x2="334.31" y2="200.90" stroke="#333" stroke-width="0.7" />
<line x1="343.62" y1="199.50" x2="343.62" y2="200.90" stroke="#333" stroke-width="0.7" />
<line x1="351.08" y1="199.50" x2="351.08" y2="200.90" stroke="#333" stroke-width="0.7" />
<line x1="369.06" y1="199.50" x2="369.06" y2="200.90" stroke="#333" stroke-width="0.7" />
<line x1="374.33" y1="199.50" x2="374.33" y2="200.90" stroke="#333" stroke-width="0.7" />
<line x1="377.48" y1="199.50" x2="377.48" y2="200.90" stroke="#333" stroke-width="0.7" />
<text x="302.10" y="135.10" font-size="7.1" fill="#222" textLength="8.00" lengthAdjust="spacingAndGlyphs" stroke="#222" stroke-width="0.12" >Q1</text>
<text x="302.10" y="142.60" font-size="7.1" fill="#222" textLength="12.30" lengthAdjust="spacingAndGlyphs" stroke="#222" stroke-width="0.12" >6.28</text>
<text x="374.60" y="135.10" font-size="7.1" fill="#222" textLength="8.40" lengthAdjust="spacingAndGlyphs" stroke="#222" stroke-width="0.12" >Q2</text>
<text x="370.70" y="142.60" font-size="7.1" fill="#222" textLength="12.30" lengthAdjust="spacingAndGlyphs" stroke="#222" stroke-width="0.12" >2.08</text>
<text x="302.10" y="189.90" font-size="7.1" fill="#222" textLength="8.60" lengthAdjust="spacingAndGlyphs" stroke="#222" stroke-width="0.12" >Q4</text>
<text x="302.10" y="197.10" font-size="7.1" fill="#222" textLength="12.30" lengthAdjust="spacingAndGlyphs" stroke="#222" stroke-width="0.12" >89.3</text>
<text x="374.60" y="189.90" font-size="7.1" fill="#222" textLength="8.40" lengthAdjust="spacingAndGlyphs" stroke="#222" stroke-width="0.12" >Q3</text>
<text x="370.70" y="197.10" font-size="7.1" fill="#222" textLength="12.30" lengthAdjust="spacingAndGlyphs" stroke="#222" stroke-width="0.12" >2.37</text>
<g clip-path="url(#clip13)"><g filter="url(#bl)"><ellipse cx="456.0" cy="146.5" rx="20.0" ry="5.0" fill="#f2f2f2" stroke="#787878" stroke-width="0.6"/><ellipse cx="457.5" cy="146.5" rx="14.4" ry="3.6" fill="none" stroke="#787878" stroke-width="0.6"/><ellipse cx="459.0" cy="146.5" rx="8.8" ry="2.2" fill="none" stroke="#787878" stroke-width="0.6"/><ellipse cx="460.5" cy="146.5" rx="3.2" ry="0.8" fill="none" stroke="#787878" stroke-width="0.6"/><ellipse cx="463" cy="146.5" rx="8" ry="2.8" fill="#d8d8d8" stroke="#999" stroke-width="0.6"/><ellipse cx="421" cy="146" rx="4" ry="2.6" fill="none" stroke="#7a7a7a" stroke-width="0.6"/><path d="M416,142 C414,150 417,158 423,163" fill="none" stroke="#7a7a7a" stroke-width="0.6"/><path d="M420,148 C419,153 422,158 427,161 C431,162 434,159 433,155" fill="none" stroke="#7a7a7a" stroke-width="0.6"/><path d="M425,150 C426,154 430,157 434,157" fill="none" stroke="#999" stroke-width="0.5"/><ellipse cx="426" cy="161" rx="4" ry="2.6" fill="none" stroke="#999" stroke-width="0.5"/><path d="M411.00,177.00 C412.17,174.92 415.50,174.87 418.00,174.00 C420.50,173.13 423.00,172.20 426.00,171.80 C429.00,171.40 433.17,171.23 436.00,171.60 C438.83,171.97 441.17,172.93 443.00,174.00 C444.83,175.07 446.00,176.67 447.00,178.00 C448.00,179.33 449.33,180.70 449.00,182.00 C448.67,183.30 447.33,185.05 445.00,185.80 C442.67,186.55 439.17,186.38 435.00,186.50 C430.83,186.62 424.00,186.50 420.00,186.50 C416.00,186.50 412.50,188.08 411.00,186.50 C409.50,184.92 409.83,179.08 411.00,177.00 Z" fill="#e2e2e2" stroke="#707070" stroke-width="0.5"/><path d="M413.66,177.59 C414.66,175.66 417.53,175.61 419.68,174.81 C421.83,174.00 423.98,173.13 426.56,172.76 C429.14,172.39 432.72,172.23 435.16,172.57 C437.60,172.91 439.60,173.81 441.18,174.81 C442.76,175.80 443.76,177.28 444.62,178.53 C445.48,179.77 446.63,181.04 446.34,182.25 C446.05,183.45 444.91,185.08 442.90,185.78 C440.89,186.48 437.88,186.32 434.30,186.43 C430.72,186.54 424.84,186.43 421.40,186.43 C417.96,186.43 414.95,187.90 413.66,186.43 C412.37,184.96 412.66,179.53 413.66,177.59 Z" fill="#c4c4c4" stroke="#707070" stroke-width="0.5"/><path d="M416.32,178.19 C417.16,176.40 419.56,176.36 421.36,175.61 C423.16,174.86 424.96,174.06 427.12,173.72 C429.28,173.37 432.28,173.23 434.32,173.55 C436.36,173.86 438.04,174.69 439.36,175.61 C440.68,176.53 441.52,177.90 442.24,179.05 C442.96,180.20 443.92,181.37 443.68,182.49 C443.44,183.61 442.48,185.11 440.80,185.76 C439.12,186.40 436.60,186.26 433.60,186.36 C430.60,186.46 425.68,186.36 422.80,186.36 C419.92,186.36 417.40,187.72 416.32,186.36 C415.24,185.00 415.48,179.98 416.32,178.19 Z" fill="#9e9e9e" stroke="#606060" stroke-width="0.5"/><ellipse cx="428.5" cy="182.3" rx="17.0" ry="4.4" fill="#6a6a6a" stroke="#444" stroke-width="0.3"/><ellipse cx="428.5" cy="182.3" rx="14.5" ry="3.1" fill="#343434" stroke="none" stroke-width="0.5"/><ellipse cx="428.5" cy="182.3" rx="12.5" ry="2.1" fill="#101010" stroke="none" stroke-width="0.5"/><line x1="424.125" y1="182.20000000000002" x2="432.25" y2="182.20000000000002" stroke="#6a6a6a" stroke-width="0.6"/><ellipse cx="464" cy="179.5" rx="10" ry="4.6" fill="#f0f0f0" stroke="#a0a0a0" stroke-width="0.6" transform="rotate(-12 464 179.5)"/><ellipse cx="463.5" cy="179.7" rx="6.800000000000001" ry="2.852" fill="#d8d8d8" stroke="#a4a4a4" stroke-width="0.5" transform="rotate(-12 463.5 179.7)"/><ellipse cx="463" cy="179.8" rx="3.5" ry="1.38" fill="none" stroke="#b0b0b0" stroke-width="0.45" transform="rotate(-12 463 179.8)"/></g></g>
<line x1="452.80" y1="128.10" x2="452.80" y2="199.50" stroke="#555" stroke-width="1.1" />
<line x1="413.30" y1="165.40" x2="499.50" y2="165.40" stroke="#555" stroke-width="1.1" />
<rect x="413.30" y="128.10" width="86.20" height="71.40" fill="none" stroke="#9a9a9a" stroke-width="0.9"/>
<line x1="413.30" y1="128.10" x2="413.30" y2="199.50" stroke="#222" stroke-width="0.9" />
<line x1="413.30" y1="199.50" x2="499.50" y2="199.50" stroke="#222" stroke-width="0.9" />
<line x1="410.90" y1="134.84" x2="413.30" y2="134.84" stroke="#111" stroke-width="0.9" />
<text x="399.90" y="138.34" font-size="6.9" fill="#222" textLength="6.60" lengthAdjust="spacingAndGlyphs" stroke="#222" stroke-width="0.12" >10</text>
<text x="407.10" y="134.84" font-size="4.0" fill="#222" textLength="1.90" lengthAdjust="spacingAndGlyphs" stroke="#222" stroke-width="0.12" >5</text>
<line x1="410.90" y1="151.70" x2="413.30" y2="151.70" stroke="#111" stroke-width="0.9" />
<text x="399.90" y="155.20" font-size="6.9" fill="#222" textLength="6.60" lengthAdjust="spacingAndGlyphs" stroke="#222" stroke-width="0.12" >10</text>
<text x="407.10" y="151.70" font-size="4.0" fill="#222" textLength="1.90" lengthAdjust="spacingAndGlyphs" stroke="#222" stroke-width="0.12" >4</text>
<line x1="410.90" y1="170.94" x2="413.30" y2="170.94" stroke="#111" stroke-width="0.9" />
<text x="399.90" y="174.44" font-size="6.9" fill="#222" textLength="6.60" lengthAdjust="spacingAndGlyphs" stroke="#222" stroke-width="0.12" >10</text>
<text x="407.10" y="170.94" font-size="4.0" fill="#222" textLength="1.90" lengthAdjust="spacingAndGlyphs" stroke="#222" stroke-width="0.12" >3</text>
<line x1="410.90" y1="182.64" x2="413.30" y2="182.64" stroke="#111" stroke-width="0.9" />
<text x="405.20" y="185.14" font-size="7.0" fill="#222" textLength="3.40" lengthAdjust="spacingAndGlyphs" stroke="#222" stroke-width="0.12" >0</text>
<rect x="411.00" y="181.24" width="2.30" height="2.80" fill="#000" />
<line x1="410.90" y1="194.44" x2="413.30" y2="194.44" stroke="#111" stroke-width="0.9" />
<text x="395.70" y="197.94" font-size="6.9" fill="#222" textLength="10.80" lengthAdjust="spacingAndGlyphs" stroke="#222" stroke-width="0.12" >−10</text>
<text x="406.90" y="194.84" font-size="4.0" fill="#222" textLength="1.80" lengthAdjust="spacingAndGlyphs" stroke="#222" stroke-width="0.12" >3</text>
<line x1="411.90" y1="143.61" x2="413.30" y2="143.61" stroke="#333" stroke-width="0.7" />
<line x1="411.90" y1="146.48" x2="413.30" y2="146.48" stroke="#333" stroke-width="0.7" />
<line x1="411.90" y1="149.34" x2="413.30" y2="149.34" stroke="#333" stroke-width="0.7" />
<line x1="411.90" y1="161.71" x2="413.30" y2="161.71" stroke="#333" stroke-width="0.7" />
<line x1="411.90" y1="164.98" x2="413.30" y2="164.98" stroke="#333" stroke-width="0.7" />
<line x1="411.90" y1="168.25" x2="413.30" y2="168.25" stroke="#333" stroke-width="0.7" />
<line x1="411.90" y1="177.02" x2="413.30" y2="177.02" stroke="#333" stroke-width="0.7" />
<line x1="411.90" y1="179.01" x2="413.30" y2="179.01" stroke="#333" stroke-width="0.7" />
<line x1="411.90" y1="181.00" x2="413.30" y2="181.00" stroke="#333" stroke-width="0.7" />
<line x1="411.90" y1="186.54" x2="413.30" y2="186.54" stroke="#333" stroke-width="0.7" />
<line x1="411.90" y1="190.43" x2="413.30" y2="190.43" stroke="#333" stroke-width="0.7" />
<line x1="411.90" y1="174.80" x2="413.30" y2="174.80" stroke="#333" stroke-width="0.7" />
<line x1="411.90" y1="178.66" x2="413.30" y2="178.66" stroke="#333" stroke-width="0.7" />
<text x="432.21" y="213.00" font-size="7.2" fill="#222" textLength="3.50" lengthAdjust="spacingAndGlyphs" stroke="#222" stroke-width="0.12" >0</text>
<rect x="430.81" y="199.50" width="4.10" height="1.90" fill="#000" />
<text x="465.37" y="212.70" font-size="7.4" fill="#222" textLength="6.80" lengthAdjust="spacingAndGlyphs" stroke="#222" stroke-width="0.12" >10</text>
<text x="472.57" y="209.40" font-size="4.2" fill="#222" textLength="1.80" lengthAdjust="spacingAndGlyphs" stroke="#222" stroke-width="0.12" >4</text>
<line x1="470.37" y1="199.50" x2="470.37" y2="201.90" stroke="#111" stroke-width="0.9" />
<text x="485.98" y="212.70" font-size="7.4" fill="#222" textLength="6.80" lengthAdjust="spacingAndGlyphs" stroke="#222" stroke-width="0.12" >10</text>
<text x="493.18" y="209.40" font-size="4.2" fill="#222" textLength="1.80" lengthAdjust="spacingAndGlyphs" stroke="#222" stroke-width="0.12" >5</text>
<line x1="490.98" y1="199.50" x2="490.98" y2="201.90" stroke="#111" stroke-width="0.9" />
<line x1="418.30" y1="199.50" x2="418.30" y2="201.50" stroke="#111" stroke-width="0.9" />
<line x1="422.98" y1="199.50" x2="422.98" y2="200.90" stroke="#333" stroke-width="0.7" />
<line x1="426.88" y1="199.50" x2="426.88" y2="200.90" stroke="#333" stroke-width="0.7" />
<line x1="430.01" y1="199.50" x2="430.01" y2="200.90" stroke="#333" stroke-width="0.7" />
<line x1="446.67" y1="199.50" x2="446.67" y2="200.90" stroke="#333" stroke-width="0.7" />
<line x1="455.79" y1="199.50" x2="455.79" y2="200.90" stroke="#333" stroke-width="0.7" />
<line x1="463.08" y1="199.50" x2="463.08" y2="200.90" stroke="#333" stroke-width="0.7" />
<line x1="480.67" y1="199.50" x2="480.67" y2="200.90" stroke="#333" stroke-width="0.7" />
<line x1="485.83" y1="199.50" x2="485.83" y2="200.90" stroke="#333" stroke-width="0.7" />
<line x1="488.92" y1="199.50" x2="488.92" y2="200.90" stroke="#333" stroke-width="0.7" />
<text x="416.10" y="135.10" font-size="7.1" fill="#222" textLength="8.00" lengthAdjust="spacingAndGlyphs" stroke="#222" stroke-width="0.12" >Q1</text>
<text x="416.10" y="142.60" font-size="7.1" fill="#222" textLength="12.30" lengthAdjust="spacingAndGlyphs" stroke="#222" stroke-width="0.12" >6.73</text>
<text x="487.30" y="135.10" font-size="7.1" fill="#222" textLength="8.40" lengthAdjust="spacingAndGlyphs" stroke="#222" stroke-width="0.12" >Q2</text>
<text x="483.40" y="142.60" font-size="7.1" fill="#222" textLength="12.30" lengthAdjust="spacingAndGlyphs" stroke="#222" stroke-width="0.12" >2.37</text>
<text x="416.10" y="189.90" font-size="7.1" fill="#222" textLength="8.60" lengthAdjust="spacingAndGlyphs" stroke="#222" stroke-width="0.12" >Q4</text>
<text x="416.10" y="197.10" font-size="7.1" fill="#222" textLength="12.30" lengthAdjust="spacingAndGlyphs" stroke="#222" stroke-width="0.12" >88.8</text>
<text x="487.30" y="189.90" font-size="7.1" fill="#222" textLength="8.40" lengthAdjust="spacingAndGlyphs" stroke="#222" stroke-width="0.12" >Q3</text>
<text x="483.40" y="197.10" font-size="7.1" fill="#222" textLength="12.30" lengthAdjust="spacingAndGlyphs" stroke="#222" stroke-width="0.12" >2.06</text>
<g clip-path="url(#clip20)"><g filter="url(#bl)"><ellipse cx="106" cy="248.8" rx="27.0" ry="6.0" fill="#f2f2f2" stroke="#787878" stroke-width="0.6"/><ellipse cx="108" cy="248.8" rx="19.44" ry="4.32" fill="none" stroke="#787878" stroke-width="0.6"/><ellipse cx="110" cy="248.8" rx="11.88" ry="2.64" fill="none" stroke="#787878" stroke-width="0.6"/><ellipse cx="112" cy="248.8" rx="4.32" ry="0.96" fill="none" stroke="#787878" stroke-width="0.6"/><ellipse cx="129.0" cy="250.5" rx="4.5" ry="3.8" fill="#f2f2f2" stroke="#787878" stroke-width="0.6"/><ellipse cx="129.0" cy="250.5" rx="3.24" ry="2.74" fill="none" stroke="#787878" stroke-width="0.6"/><ellipse cx="84" cy="250" rx="4" ry="2.6" fill="none" stroke="#7a7a7a" stroke-width="0.6"/><path d="M78,247 C76,254 80,262 86,266" fill="none" stroke="#7a7a7a" stroke-width="0.6"/><path d="M82,253 C82,258 86,263 91,265 C95,266 97,263 95,259" fill="none" stroke="#7a7a7a" stroke-width="0.6"/><path d="M90,254 C90,258 93,262 98,263" fill="none" stroke="#808080" stroke-width="0.6"/><path d="M72.00,281.00 C73.33,279.10 77.33,279.43 80.00,278.60 C82.67,277.77 85.83,277.02 88.00,276.00 C90.17,274.98 91.42,273.45 93.00,272.50 C94.58,271.55 96.00,270.47 97.50,270.30 C99.00,270.13 100.42,270.63 102.00,271.50 C103.58,272.37 105.42,274.08 107.00,275.50 C108.58,276.92 110.50,278.58 111.50,280.00 C112.50,281.42 113.17,282.57 113.00,284.00 C112.83,285.43 112.00,287.63 110.50,288.60 C109.00,289.57 107.42,289.57 104.00,289.80 C100.58,290.03 95.33,289.97 90.00,290.00 C84.67,290.03 75.00,291.50 72.00,290.00 C69.00,288.50 70.67,282.90 72.00,281.00 Z" fill="#e2e2e2" stroke="#707070" stroke-width="0.5"/><path d="M74.80,281.49 C75.95,279.72 79.39,280.03 81.68,279.26 C83.97,278.48 86.70,277.79 88.56,276.84 C90.42,275.89 91.50,274.47 92.86,273.58 C94.22,272.70 95.44,271.69 96.73,271.54 C98.02,271.38 99.24,271.85 100.60,272.65 C101.96,273.46 103.54,275.06 104.90,276.38 C106.26,277.69 107.91,279.24 108.77,280.56 C109.63,281.88 110.20,282.95 110.06,284.28 C109.92,285.61 109.20,287.66 107.91,288.56 C106.62,289.46 105.26,289.46 102.32,289.67 C99.38,289.89 94.87,289.83 90.28,289.86 C85.69,289.89 77.38,291.25 74.80,289.86 C72.22,288.47 73.65,283.26 74.80,281.49 Z" fill="#c4c4c4" stroke="#707070" stroke-width="0.5"/><path d="M77.60,281.98 C78.56,280.35 81.44,280.63 83.36,279.92 C85.28,279.20 87.56,278.55 89.12,277.68 C90.68,276.81 91.58,275.49 92.72,274.67 C93.86,273.85 94.88,272.92 95.96,272.78 C97.04,272.63 98.06,273.06 99.20,273.81 C100.34,274.56 101.66,276.03 102.80,277.25 C103.94,278.47 105.32,279.90 106.04,281.12 C106.76,282.34 107.24,283.33 107.12,284.56 C107.00,285.79 106.40,287.68 105.32,288.52 C104.24,289.35 103.10,289.35 100.64,289.55 C98.18,289.75 94.40,289.69 90.56,289.72 C86.72,289.75 79.76,291.01 77.60,289.72 C75.44,288.43 76.64,283.61 77.60,281.98 Z" fill="#9e9e9e" stroke="#606060" stroke-width="0.5"/><ellipse cx="95.5" cy="284" rx="13.0" ry="4.699999999999999" fill="#6a6a6a" stroke="#444" stroke-width="0.3"/><ellipse cx="95.5" cy="284" rx="10.5" ry="3.4" fill="#343434" stroke="none" stroke-width="0.5"/><ellipse cx="95.5" cy="284" rx="8.5" ry="2.4" fill="#141414" stroke="none" stroke-width="0.5"/><line x1="92.525" y1="283.9" x2="98.05" y2="283.9" stroke="#6a6a6a" stroke-width="0.6"/><ellipse cx="126" cy="281" rx="10" ry="3.6" fill="#f0f0f0" stroke="#a0a0a0" stroke-width="0.6" transform="rotate(-6 126 281)"/><ellipse cx="125.5" cy="281.2" rx="6.800000000000001" ry="2.232" fill="#f4f4f4" stroke="#a4a4a4" stroke-width="0.5" transform="rotate(-6 125.5 281.2)"/><ellipse cx="125" cy="281.3" rx="3.5" ry="1.08" fill="none" stroke="#b0b0b0" stroke-width="0.45" transform="rotate(-6 125 281.3)"/></g></g>
<line x1="114.60" y1="230.20" x2="114.60" y2="302.00" stroke="#555" stroke-width="1.1" />
<line x1="75.40" y1="267.30" x2="162.50" y2="267.30" stroke="#555" stroke-width="1.1" />
<rect x="75.40" y="230.20" width="87.10" height="71.80" fill="none" stroke="#9a9a9a" stroke-width="0.9"/>
<line x1="75.40" y1="230.20" x2="75.40" y2="302.00" stroke="#222" stroke-width="0.9" />
<line x1="75.40" y1="302.00" x2="162.50" y2="302.00" stroke="#222" stroke-width="0.9" />
<line x1="73.00" y1="236.98" x2="75.40" y2="236.98" stroke="#111" stroke-width="0.9" />
<text x="62.00" y="240.48" font-size="6.9" fill="#222" textLength="6.60" lengthAdjust="spacingAndGlyphs" stroke="#222" stroke-width="0.12" >10</text>
<text x="69.20" y="236.98" font-size="4.0" fill="#222" textLength="1.90" lengthAdjust="spacingAndGlyphs" stroke="#222" stroke-width="0.12" >5</text>
<line x1="73.00" y1="253.93" x2="75.40" y2="253.93" stroke="#111" stroke-width="0.9" />
<text x="62.00" y="257.43" font-size="6.9" fill="#222" textLength="6.60" lengthAdjust="spacingAndGlyphs" stroke="#222" stroke-width="0.12" >10</text>
<text x="69.20" y="253.93" font-size="4.0" fill="#222" textLength="1.90" lengthAdjust="spacingAndGlyphs" stroke="#222" stroke-width="0.12" >4</text>
<line x1="73.00" y1="273.28" x2="75.40" y2="273.28" stroke="#111" stroke-width="0.9" />
<text x="62.00" y="276.78" font-size="6.9" fill="#222" textLength="6.60" lengthAdjust="spacingAndGlyphs" stroke="#222" stroke-width="0.12" >10</text>
<text x="69.20" y="273.28" font-size="4.0" fill="#222" textLength="1.90" lengthAdjust="spacingAndGlyphs" stroke="#222" stroke-width="0.12" >3</text>
<line x1="73.00" y1="285.05" x2="75.40" y2="285.05" stroke="#111" stroke-width="0.9" />
<text x="67.30" y="287.55" font-size="7.0" fill="#222" textLength="3.40" lengthAdjust="spacingAndGlyphs" stroke="#222" stroke-width="0.12" >0</text>
<rect x="73.10" y="283.65" width="2.30" height="2.80" fill="#000" />
<line x1="73.00" y1="296.91" x2="75.40" y2="296.91" stroke="#111" stroke-width="0.9" />
<text x="57.80" y="300.41" font-size="6.9" fill="#222" textLength="10.80" lengthAdjust="spacingAndGlyphs" stroke="#222" stroke-width="0.12" >−10</text>
<text x="69.00" y="297.31" font-size="4.0" fill="#222" textLength="1.80" lengthAdjust="spacingAndGlyphs" stroke="#222" stroke-width="0.12" >3</text>
<line x1="74.00" y1="245.80" x2="75.40" y2="245.80" stroke="#333" stroke-width="0.7" />
<line x1="74.00" y1="248.68" x2="75.40" y2="248.68" stroke="#333" stroke-width="0.7" />
<line x1="74.00" y1="251.56" x2="75.40" y2="251.56" stroke="#333" stroke-width="0.7" />
<line x1="74.00" y1="263.99" x2="75.40" y2="263.99" stroke="#333" stroke-width="0.7" />
<line x1="74.00" y1="267.28" x2="75.40" y2="267.28" stroke="#333" stroke-width="0.7" />
<line x1="74.00" y1="270.57" x2="75.40" y2="270.57" stroke="#333" stroke-width="0.7" />
<line x1="74.00" y1="279.40" x2="75.40" y2="279.40" stroke="#333" stroke-width="0.7" />
<line x1="74.00" y1="281.40" x2="75.40" y2="281.40" stroke="#333" stroke-width="0.7" />
<line x1="74.00" y1="283.40" x2="75.40" y2="283.40" stroke="#333" stroke-width="0.7" />
<line x1="74.00" y1="288.96" x2="75.40" y2="288.96" stroke="#333" stroke-width="0.7" />
<line x1="74.00" y1="292.88" x2="75.40" y2="292.88" stroke="#333" stroke-width="0.7" />
<line x1="74.00" y1="277.16" x2="75.40" y2="277.16" stroke="#333" stroke-width="0.7" />
<line x1="74.00" y1="281.05" x2="75.40" y2="281.05" stroke="#333" stroke-width="0.7" />
<text x="94.52" y="315.50" font-size="7.2" fill="#222" textLength="3.50" lengthAdjust="spacingAndGlyphs" stroke="#222" stroke-width="0.12" >0</text>
<rect x="93.12" y="302.00" width="4.10" height="1.90" fill="#000" />
<text x="128.07" y="315.20" font-size="7.4" fill="#222" textLength="6.80" lengthAdjust="spacingAndGlyphs" stroke="#222" stroke-width="0.12" >10</text>
<text x="135.27" y="311.90" font-size="4.2" fill="#222" textLength="1.80" lengthAdjust="spacingAndGlyphs" stroke="#222" stroke-width="0.12" >4</text>
<line x1="133.07" y1="302.00" x2="133.07" y2="304.40" stroke="#111" stroke-width="0.9" />
<text x="148.89" y="315.20" font-size="7.4" fill="#222" textLength="6.80" lengthAdjust="spacingAndGlyphs" stroke="#222" stroke-width="0.12" >10</text>
<text x="156.09" y="311.90" font-size="4.2" fill="#222" textLength="1.80" lengthAdjust="spacingAndGlyphs" stroke="#222" stroke-width="0.12" >5</text>
<line x1="153.89" y1="302.00" x2="153.89" y2="304.40" stroke="#111" stroke-width="0.9" />
<line x1="80.40" y1="302.00" x2="80.40" y2="304.00" stroke="#111" stroke-width="0.9" />
<line x1="85.15" y1="302.00" x2="85.15" y2="303.40" stroke="#333" stroke-width="0.7" />
<line x1="89.10" y1="302.00" x2="89.10" y2="303.40" stroke="#333" stroke-width="0.7" />
<line x1="92.27" y1="302.00" x2="92.27" y2="303.40" stroke="#333" stroke-width="0.7" />
<line x1="109.12" y1="302.00" x2="109.12" y2="303.40" stroke="#333" stroke-width="0.7" />
<line x1="118.33" y1="302.00" x2="118.33" y2="303.40" stroke="#333" stroke-width="0.7" />
<line x1="125.70" y1="302.00" x2="125.70" y2="303.40" stroke="#333" stroke-width="0.7" />
<line x1="143.48" y1="302.00" x2="143.48" y2="303.40" stroke="#333" stroke-width="0.7" />
<line x1="148.68" y1="302.00" x2="148.68" y2="303.40" stroke="#333" stroke-width="0.7" />
<line x1="151.81" y1="302.00" x2="151.81" y2="303.40" stroke="#333" stroke-width="0.7" />
<text x="77.00" y="237.20" font-size="7.1" fill="#222" textLength="8.00" lengthAdjust="spacingAndGlyphs" stroke="#222" stroke-width="0.12" >Q1</text>
<text x="77.00" y="244.70" font-size="7.1" fill="#222" textLength="12.30" lengthAdjust="spacingAndGlyphs" stroke="#222" stroke-width="0.12" >7.40</text>
<text x="148.00" y="237.20" font-size="7.1" fill="#222" textLength="8.40" lengthAdjust="spacingAndGlyphs" stroke="#222" stroke-width="0.12" >Q2</text>
<text x="144.10" y="244.70" font-size="7.1" fill="#222" textLength="12.30" lengthAdjust="spacingAndGlyphs" stroke="#222" stroke-width="0.12" >2.20</text>
<text x="77.00" y="292.40" font-size="7.1" fill="#222" textLength="8.60" lengthAdjust="spacingAndGlyphs" stroke="#222" stroke-width="0.12" >Q4</text>
<text x="77.00" y="299.60" font-size="7.1" fill="#222" textLength="12.30" lengthAdjust="spacingAndGlyphs" stroke="#222" stroke-width="0.12" >88.3</text>
<text x="148.00" y="292.40" font-size="7.1" fill="#222" textLength="8.40" lengthAdjust="spacingAndGlyphs" stroke="#222" stroke-width="0.12" >Q3</text>
<text x="144.10" y="299.60" font-size="7.1" fill="#222" textLength="12.30" lengthAdjust="spacingAndGlyphs" stroke="#222" stroke-width="0.12" >2.05</text>
<g clip-path="url(#clip21)"><g filter="url(#bl)"><ellipse cx="221" cy="251.2" rx="26.0" ry="6.4" fill="#f2f2f2" stroke="#787878" stroke-width="0.6"/><ellipse cx="223" cy="251.2" rx="18.72" ry="4.61" fill="none" stroke="#787878" stroke-width="0.6"/><ellipse cx="225" cy="251.2" rx="11.44" ry="2.82" fill="none" stroke="#787878" stroke-width="0.6"/><ellipse cx="230" cy="251.2" rx="8.5" ry="3.2" fill="#dedede" stroke="#999" stroke-width="0.6"/><ellipse cx="230" cy="251.2" rx="4" ry="1.5" fill="#c8c8c8" stroke="none" stroke-width="0.5"/><path d="M196,248 C193,255 195,263 199,270" fill="none" stroke="#7a7a7a" stroke-width="0.6"/><path d="M201,252 C199,258 201,264 205,270" fill="none" stroke="#7a7a7a" stroke-width="0.6"/><path d="M206,255 C205,260 207,265 211,269" fill="none" stroke="#808080" stroke-width="0.6"/><ellipse cx="205" cy="258" rx="3" ry="2.2" fill="none" stroke="#8a8a8a" stroke-width="0.5"/><path d="M186.00,284.00 C186.83,282.95 189.17,283.08 191.00,282.00 C192.83,280.92 195.00,279.17 197.00,277.50 C199.00,275.83 200.83,273.28 203.00,272.00 C205.17,270.72 207.83,269.88 210.00,269.80 C212.17,269.72 214.17,270.30 216.00,271.50 C217.83,272.70 219.57,274.92 221.00,277.00 C222.43,279.08 224.60,282.13 224.60,284.00 C224.60,285.87 223.43,287.43 221.00,288.20 C218.57,288.97 214.33,288.58 210.00,288.60 C205.67,288.62 199.00,288.35 195.00,288.30 C191.00,288.25 187.50,289.02 186.00,288.30 C184.50,287.58 185.17,285.05 186.00,284.00 Z" fill="#e2e2e2" stroke="#707070" stroke-width="0.5"/><path d="M188.80,284.21 C189.52,283.23 191.52,283.36 193.10,282.35 C194.68,281.34 196.54,279.72 198.26,278.17 C199.98,276.62 201.56,274.24 203.42,273.05 C205.28,271.86 207.58,271.08 209.44,271.00 C211.30,270.93 213.02,271.47 214.60,272.58 C216.18,273.70 217.67,275.76 218.90,277.70 C220.13,279.64 222.00,282.47 222.00,284.21 C222.00,285.95 220.99,287.40 218.90,288.12 C216.81,288.83 213.17,288.47 209.44,288.49 C205.71,288.50 199.98,288.26 196.54,288.21 C193.10,288.16 190.09,288.88 188.80,288.21 C187.51,287.54 188.08,285.19 188.80,284.21 Z" fill="#c4c4c4" stroke="#707070" stroke-width="0.5"/><path d="M191.60,284.42 C192.20,283.52 193.88,283.63 195.20,282.70 C196.52,281.77 198.08,280.26 199.52,278.83 C200.96,277.40 202.28,275.20 203.84,274.10 C205.40,273.00 207.32,272.28 208.88,272.21 C210.44,272.14 211.88,272.64 213.20,273.67 C214.52,274.70 215.77,276.61 216.80,278.40 C217.83,280.19 219.39,282.81 219.39,284.42 C219.39,286.03 218.55,287.37 216.80,288.03 C215.05,288.69 212.00,288.36 208.88,288.38 C205.76,288.39 200.96,288.16 198.08,288.12 C195.20,288.07 192.68,288.73 191.60,288.12 C190.52,287.50 191.00,285.32 191.60,284.42 Z" fill="#9e9e9e" stroke="#606060" stroke-width="0.5"/><ellipse cx="209.5" cy="283.4" rx="13.3" ry="4.699999999999999" fill="#6a6a6a" stroke="#444" stroke-width="0.3"/><ellipse cx="209.5" cy="283.4" rx="10.8" ry="3.4" fill="#343434" stroke="none" stroke-width="0.5"/><ellipse cx="209.5" cy="283.4" rx="8.8" ry="2.4" fill="#141414" stroke="none" stroke-width="0.5"/><line x1="206.42" y1="283.29999999999995" x2="212.14" y2="283.29999999999995" stroke="#6a6a6a" stroke-width="0.6"/><ellipse cx="240.5" cy="280.2" rx="10" ry="4.5" fill="#f0f0f0" stroke="#a0a0a0" stroke-width="0.6" transform="rotate(-12 240.5 280.2)"/><ellipse cx="240.0" cy="280.4" rx="6.800000000000001" ry="2.79" fill="#d8d8d8" stroke="#a4a4a4" stroke-width="0.5" transform="rotate(-12 240.0 280.4)"/><ellipse cx="239.5" cy="280.5" rx="3.5" ry="1.3499999999999999" fill="none" stroke="#b0b0b0" stroke-width="0.45" transform="rotate(-12 239.5 280.5)"/></g></g>
<line x1="228.60" y1="230.20" x2="228.60" y2="302.00" stroke="#555" stroke-width="1.1" />
<line x1="187.70" y1="266.40" x2="275.00" y2="266.40" stroke="#555" stroke-width="1.1" />
<rect x="187.70" y="230.20" width="87.30" height="71.80" fill="none" stroke="#9a9a9a" stroke-width="0.9"/>
<line x1="187.70" y1="230.20" x2="187.70" y2="302.00" stroke="#222" stroke-width="0.9" />
<line x1="187.70" y1="302.00" x2="275.00" y2="302.00" stroke="#222" stroke-width="0.9" />
<line x1="185.30" y1="236.98" x2="187.70" y2="236.98" stroke="#111" stroke-width="0.9" />
<text x="174.30" y="240.48" font-size="6.9" fill="#222" textLength="6.60" lengthAdjust="spacingAndGlyphs" stroke="#222" stroke-width="0.12" >10</text>
<text x="181.50" y="236.98" font-size="4.0" fill="#222" textLength="1.90" lengthAdjust="spacingAndGlyphs" stroke="#222" stroke-width="0.12" >5</text>
<line x1="185.30" y1="253.93" x2="187.70" y2="253.93" stroke="#111" stroke-width="0.9" />
<text x="174.30" y="257.43" font-size="6.9" fill="#222" textLength="6.60" lengthAdjust="spacingAndGlyphs" stroke="#222" stroke-width="0.12" >10</text>
<text x="181.50" y="253.93" font-size="4.0" fill="#222" textLength="1.90" lengthAdjust="spacingAndGlyphs" stroke="#222" stroke-width="0.12" >4</text>
<line x1="185.30" y1="273.28" x2="187.70" y2="273.28" stroke="#111" stroke-width="0.9" />
<text x="174.30" y="276.78" font-size="6.9" fill="#222" textLength="6.60" lengthAdjust="spacingAndGlyphs" stroke="#222" stroke-width="0.12" >10</text>
<text x="181.50" y="273.28" font-size="4.0" fill="#222" textLength="1.90" lengthAdjust="spacingAndGlyphs" stroke="#222" stroke-width="0.12" >3</text>
<line x1="185.30" y1="285.05" x2="187.70" y2="285.05" stroke="#111" stroke-width="0.9" />
<text x="179.60" y="287.55" font-size="7.0" fill="#222" textLength="3.40" lengthAdjust="spacingAndGlyphs" stroke="#222" stroke-width="0.12" >0</text>
<rect x="185.40" y="283.65" width="2.30" height="2.80" fill="#000" />
<line x1="185.30" y1="296.91" x2="187.70" y2="296.91" stroke="#111" stroke-width="0.9" />
<text x="170.10" y="300.41" font-size="6.9" fill="#222" textLength="10.80" lengthAdjust="spacingAndGlyphs" stroke="#222" stroke-width="0.12" >−10</text>
<text x="181.30" y="297.31" font-size="4.0" fill="#222" textLength="1.80" lengthAdjust="spacingAndGlyphs" stroke="#222" stroke-width="0.12" >3</text>
<line x1="186.30" y1="245.80" x2="187.70" y2="245.80" stroke="#333" stroke-width="0.7" />
<line x1="186.30" y1="248.68" x2="187.70" y2="248.68" stroke="#333" stroke-width="0.7" />
<line x1="186.30" y1="251.56" x2="187.70" y2="251.56" stroke="#333" stroke-width="0.7" />
<line x1="186.30" y1="263.99" x2="187.70" y2="263.99" stroke="#333" stroke-width="0.7" />
<line x1="186.30" y1="267.28" x2="187.70" y2="267.28" stroke="#333" stroke-width="0.7" />
<line x1="186.30" y1="270.57" x2="187.70" y2="270.57" stroke="#333" stroke-width="0.7" />
<line x1="186.30" y1="279.40" x2="187.70" y2="279.40" stroke="#333" stroke-width="0.7" />
<line x1="186.30" y1="281.40" x2="187.70" y2="281.40" stroke="#333" stroke-width="0.7" />
<line x1="186.30" y1="283.40" x2="187.70" y2="283.40" stroke="#333" stroke-width="0.7" />
<line x1="186.30" y1="288.96" x2="187.70" y2="288.96" stroke="#333" stroke-width="0.7" />
<line x1="186.30" y1="292.88" x2="187.70" y2="292.88" stroke="#333" stroke-width="0.7" />
<line x1="186.30" y1="277.16" x2="187.70" y2="277.16" stroke="#333" stroke-width="0.7" />
<line x1="186.30" y1="281.05" x2="187.70" y2="281.05" stroke="#333" stroke-width="0.7" />
<text x="206.87" y="315.50" font-size="7.2" fill="#222" textLength="3.50" lengthAdjust="spacingAndGlyphs" stroke="#222" stroke-width="0.12" >0</text>
<rect x="205.47" y="302.00" width="4.10" height="1.90" fill="#000" />
<text x="240.50" y="315.20" font-size="7.4" fill="#222" textLength="6.80" lengthAdjust="spacingAndGlyphs" stroke="#222" stroke-width="0.12" >10</text>
<text x="247.70" y="311.90" font-size="4.2" fill="#222" textLength="1.80" lengthAdjust="spacingAndGlyphs" stroke="#222" stroke-width="0.12" >4</text>
<line x1="245.50" y1="302.00" x2="245.50" y2="304.40" stroke="#111" stroke-width="0.9" />
<text x="261.37" y="315.20" font-size="7.4" fill="#222" textLength="6.80" lengthAdjust="spacingAndGlyphs" stroke="#222" stroke-width="0.12" >10</text>
<text x="268.57" y="311.90" font-size="4.2" fill="#222" textLength="1.80" lengthAdjust="spacingAndGlyphs" stroke="#222" stroke-width="0.12" >5</text>
<line x1="266.37" y1="302.00" x2="266.37" y2="304.40" stroke="#111" stroke-width="0.9" />
<line x1="192.70" y1="302.00" x2="192.70" y2="304.00" stroke="#111" stroke-width="0.9" />
<line x1="197.46" y1="302.00" x2="197.46" y2="303.40" stroke="#333" stroke-width="0.7" />
<line x1="201.43" y1="302.00" x2="201.43" y2="303.40" stroke="#333" stroke-width="0.7" />
<line x1="204.60" y1="302.00" x2="204.60" y2="303.40" stroke="#333" stroke-width="0.7" />
<line x1="221.50" y1="302.00" x2="221.50" y2="303.40" stroke="#333" stroke-width="0.7" />
<line x1="230.73" y1="302.00" x2="230.73" y2="303.40" stroke="#333" stroke-width="0.7" />
<line x1="238.11" y1="302.00" x2="238.11" y2="303.40" stroke="#333" stroke-width="0.7" />
<line x1="255.93" y1="302.00" x2="255.93" y2="303.40" stroke="#333" stroke-width="0.7" />
<line x1="261.15" y1="302.00" x2="261.15" y2="303.40" stroke="#333" stroke-width="0.7" />
<line x1="264.28" y1="302.00" x2="264.28" y2="303.40" stroke="#333" stroke-width="0.7" />
<text x="190.20" y="237.20" font-size="7.1" fill="#222" textLength="8.00" lengthAdjust="spacingAndGlyphs" stroke="#222" stroke-width="0.12" >Q1</text>
<text x="190.20" y="244.70" font-size="7.1" fill="#222" textLength="12.30" lengthAdjust="spacingAndGlyphs" stroke="#222" stroke-width="0.12" >5.23</text>
<text x="262.20" y="237.20" font-size="7.1" fill="#222" textLength="8.40" lengthAdjust="spacingAndGlyphs" stroke="#222" stroke-width="0.12" >Q2</text>
<text x="258.30" y="244.70" font-size="7.1" fill="#222" textLength="12.30" lengthAdjust="spacingAndGlyphs" stroke="#222" stroke-width="0.12" >2.60</text>
<text x="190.20" y="292.40" font-size="7.1" fill="#222" textLength="8.60" lengthAdjust="spacingAndGlyphs" stroke="#222" stroke-width="0.12" >Q4</text>
<text x="190.20" y="299.60" font-size="7.1" fill="#222" textLength="12.30" lengthAdjust="spacingAndGlyphs" stroke="#222" stroke-width="0.12" >89.6</text>
<text x="262.20" y="292.40" font-size="7.1" fill="#222" textLength="8.40" lengthAdjust="spacingAndGlyphs" stroke="#222" stroke-width="0.12" >Q3</text>
<text x="258.30" y="299.60" font-size="7.1" fill="#222" textLength="12.30" lengthAdjust="spacingAndGlyphs" stroke="#222" stroke-width="0.12" >2.60</text>
<g clip-path="url(#clip22)"><g filter="url(#bl)"><ellipse cx="333.5" cy="251.8" rx="27.0" ry="5.8" fill="#f2f2f2" stroke="#787878" stroke-width="0.6"/><ellipse cx="335.5" cy="251.8" rx="19.44" ry="4.18" fill="none" stroke="#787878" stroke-width="0.6"/><ellipse cx="337.5" cy="251.8" rx="11.88" ry="2.55" fill="none" stroke="#787878" stroke-width="0.6"/><ellipse cx="345" cy="252" rx="9" ry="3.2" fill="#e2e2e2" stroke="#999" stroke-width="0.6"/><path d="M308,249 C305,256 307,264 311,272" fill="none" stroke="#7a7a7a" stroke-width="0.6"/><path d="M313,253 C311,259 313,265 317,271" fill="none" stroke="#7a7a7a" stroke-width="0.6"/><path d="M318,256 C317,261 319,266 323,270" fill="none" stroke="#808080" stroke-width="0.6"/><path d="M298.00,285.00 C298.83,283.98 301.00,284.50 303.00,283.50 C305.00,282.50 307.83,280.75 310.00,279.00 C312.17,277.25 314.17,274.37 316.00,273.00 C317.83,271.63 319.17,270.80 321.00,270.80 C322.83,270.80 325.00,271.63 327.00,273.00 C329.00,274.37 331.33,277.00 333.00,279.00 C334.67,281.00 337.00,283.30 337.00,285.00 C337.00,286.70 335.50,288.43 333.00,289.20 C330.50,289.97 326.17,289.53 322.00,289.60 C317.83,289.67 312.00,289.60 308.00,289.60 C304.00,289.60 299.67,290.37 298.00,289.60 C296.33,288.83 297.17,286.02 298.00,285.00 Z" fill="#e2e2e2" stroke="#707070" stroke-width="0.5"/><path d="M301.08,285.25 C301.80,284.30 303.66,284.78 305.38,283.85 C307.10,282.92 309.54,281.29 311.40,279.67 C313.26,278.04 314.98,275.36 316.56,274.08 C318.14,272.81 319.28,272.04 320.86,272.04 C322.44,272.04 324.30,272.81 326.02,274.08 C327.74,275.36 329.75,277.81 331.18,279.67 C332.61,281.53 334.62,283.66 334.62,285.25 C334.62,286.83 333.33,288.44 331.18,289.15 C329.03,289.86 325.30,289.46 321.72,289.52 C318.14,289.59 313.12,289.52 309.68,289.52 C306.24,289.52 302.51,290.24 301.08,289.52 C299.65,288.81 300.36,286.19 301.08,285.25 Z" fill="#c4c4c4" stroke="#707070" stroke-width="0.5"/><path d="M304.16,285.49 C304.76,284.62 306.32,285.06 307.76,284.20 C309.20,283.34 311.24,281.83 312.80,280.33 C314.36,278.82 315.80,276.35 317.12,275.17 C318.44,273.99 319.40,273.28 320.72,273.28 C322.04,273.28 323.60,273.99 325.04,275.17 C326.48,276.35 328.16,278.61 329.36,280.33 C330.56,282.05 332.24,284.03 332.24,285.49 C332.24,286.95 331.16,288.44 329.36,289.10 C327.56,289.76 324.44,289.39 321.44,289.45 C318.44,289.50 314.24,289.45 311.36,289.45 C308.48,289.45 305.36,290.11 304.16,289.45 C302.96,288.79 303.56,286.36 304.16,285.49 Z" fill="#9e9e9e" stroke="#606060" stroke-width="0.5"/><ellipse cx="321" cy="284.7" rx="13.1" ry="4.9" fill="#6a6a6a" stroke="#444" stroke-width="0.3"/><ellipse cx="321" cy="284.7" rx="10.6" ry="3.6" fill="#343434" stroke="none" stroke-width="0.5"/><ellipse cx="321" cy="284.7" rx="8.6" ry="2.6" fill="#141414" stroke="none" stroke-width="0.5"/><line x1="317.99" y1="284.59999999999997" x2="323.58" y2="284.59999999999997" stroke="#6a6a6a" stroke-width="0.6"/><ellipse cx="352.5" cy="281.3" rx="11.5" ry="6.0" fill="#f0f0f0" stroke="#a0a0a0" stroke-width="0.6" transform="rotate(-15 352.5 281.3)"/><ellipse cx="352.0" cy="281.5" rx="7.82" ry="3.7199999999999998" fill="#d8d8d8" stroke="#a4a4a4" stroke-width="0.5" transform="rotate(-15 352.0 281.5)"/><ellipse cx="351.5" cy="281.6" rx="4.0249999999999995" ry="1.7999999999999998" fill="none" stroke="#b0b0b0" stroke-width="0.45" transform="rotate(-15 351.5 281.6)"/></g></g>
<line x1="340.60" y1="230.20" x2="340.60" y2="302.00" stroke="#555" stroke-width="1.1" />
<line x1="300.20" y1="267.90" x2="388.30" y2="267.90" stroke="#555" stroke-width="1.1" />
<rect x="300.20" y="230.20" width="88.10" height="71.80" fill="none" stroke="#9a9a9a" stroke-width="0.9"/>
<line x1="300.20" y1="230.20" x2="300.20" y2="302.00" stroke="#222" stroke-width="0.9" />
<line x1="300.20" y1="302.00" x2="388.30" y2="302.00" stroke="#222" stroke-width="0.9" />
<line x1="297.80" y1="236.98" x2="300.20" y2="236.98" stroke="#111" stroke-width="0.9" />
<text x="286.80" y="240.48" font-size="6.9" fill="#222" textLength="6.60" lengthAdjust="spacingAndGlyphs" stroke="#222" stroke-width="0.12" >10</text>
<text x="294.00" y="236.98" font-size="4.0" fill="#222" textLength="1.90" lengthAdjust="spacingAndGlyphs" stroke="#222" stroke-width="0.12" >5</text>
<line x1="297.80" y1="253.93" x2="300.20" y2="253.93" stroke="#111" stroke-width="0.9" />
<text x="286.80" y="257.43" font-size="6.9" fill="#222" textLength="6.60" lengthAdjust="spacingAndGlyphs" stroke="#222" stroke-width="0.12" >10</text>
<text x="294.00" y="253.93" font-size="4.0" fill="#222" textLength="1.90" lengthAdjust="spacingAndGlyphs" stroke="#222" stroke-width="0.12" >4</text>
<line x1="297.80" y1="273.28" x2="300.20" y2="273.28" stroke="#111" stroke-width="0.9" />
<text x="286.80" y="276.78" font-size="6.9" fill="#222" textLength="6.60" lengthAdjust="spacingAndGlyphs" stroke="#222" stroke-width="0.12" >10</text>
<text x="294.00" y="273.28" font-size="4.0" fill="#222" textLength="1.90" lengthAdjust="spacingAndGlyphs" stroke="#222" stroke-width="0.12" >3</text>
<line x1="297.80" y1="285.05" x2="300.20" y2="285.05" stroke="#111" stroke-width="0.9" />
<text x="292.10" y="287.55" font-size="7.0" fill="#222" textLength="3.40" lengthAdjust="spacingAndGlyphs" stroke="#222" stroke-width="0.12" >0</text>
<rect x="297.90" y="283.65" width="2.30" height="2.80" fill="#000" />
<line x1="297.80" y1="296.91" x2="300.20" y2="296.91" stroke="#111" stroke-width="0.9" />
<text x="282.60" y="300.41" font-size="6.9" fill="#222" textLength="10.80" lengthAdjust="spacingAndGlyphs" stroke="#222" stroke-width="0.12" >−10</text>
<text x="293.80" y="297.31" font-size="4.0" fill="#222" textLength="1.80" lengthAdjust="spacingAndGlyphs" stroke="#222" stroke-width="0.12" >3</text>
<line x1="298.80" y1="245.80" x2="300.20" y2="245.80" stroke="#333" stroke-width="0.7" />
<line x1="298.80" y1="248.68" x2="300.20" y2="248.68" stroke="#333" stroke-width="0.7" />
<line x1="298.80" y1="251.56" x2="300.20" y2="251.56" stroke="#333" stroke-width="0.7" />
<line x1="298.80" y1="263.99" x2="300.20" y2="263.99" stroke="#333" stroke-width="0.7" />
<line x1="298.80" y1="267.28" x2="300.20" y2="267.28" stroke="#333" stroke-width="0.7" />
<line x1="298.80" y1="270.57" x2="300.20" y2="270.57" stroke="#333" stroke-width="0.7" />
<line x1="298.80" y1="279.40" x2="300.20" y2="279.40" stroke="#333" stroke-width="0.7" />
<line x1="298.80" y1="281.40" x2="300.20" y2="281.40" stroke="#333" stroke-width="0.7" />
<line x1="298.80" y1="283.40" x2="300.20" y2="283.40" stroke="#333" stroke-width="0.7" />
<line x1="298.80" y1="288.96" x2="300.20" y2="288.96" stroke="#333" stroke-width="0.7" />
<line x1="298.80" y1="292.88" x2="300.20" y2="292.88" stroke="#333" stroke-width="0.7" />
<line x1="298.80" y1="277.16" x2="300.20" y2="277.16" stroke="#333" stroke-width="0.7" />
<line x1="298.80" y1="281.05" x2="300.20" y2="281.05" stroke="#333" stroke-width="0.7" />
<text x="319.56" y="315.50" font-size="7.2" fill="#222" textLength="3.50" lengthAdjust="spacingAndGlyphs" stroke="#222" stroke-width="0.12" >0</text>
<rect x="318.16" y="302.00" width="4.10" height="1.90" fill="#000" />
<text x="353.53" y="315.20" font-size="7.4" fill="#222" textLength="6.80" lengthAdjust="spacingAndGlyphs" stroke="#222" stroke-width="0.12" >10</text>
<text x="360.73" y="311.90" font-size="4.2" fill="#222" textLength="1.80" lengthAdjust="spacingAndGlyphs" stroke="#222" stroke-width="0.12" >4</text>
<line x1="358.53" y1="302.00" x2="358.53" y2="304.40" stroke="#111" stroke-width="0.9" />
<text x="374.59" y="315.20" font-size="7.4" fill="#222" textLength="6.80" lengthAdjust="spacingAndGlyphs" stroke="#222" stroke-width="0.12" >10</text>
<text x="381.79" y="311.90" font-size="4.2" fill="#222" textLength="1.80" lengthAdjust="spacingAndGlyphs" stroke="#222" stroke-width="0.12" >5</text>
<line x1="379.59" y1="302.00" x2="379.59" y2="304.40" stroke="#111" stroke-width="0.9" />
<line x1="305.20" y1="302.00" x2="305.20" y2="304.00" stroke="#111" stroke-width="0.9" />
<line x1="310.02" y1="302.00" x2="310.02" y2="303.40" stroke="#333" stroke-width="0.7" />
<line x1="314.03" y1="302.00" x2="314.03" y2="303.40" stroke="#333" stroke-width="0.7" />
<line x1="317.25" y1="302.00" x2="317.25" y2="303.40" stroke="#333" stroke-width="0.7" />
<line x1="334.31" y1="302.00" x2="334.31" y2="303.40" stroke="#333" stroke-width="0.7" />
<line x1="343.62" y1="302.00" x2="343.62" y2="303.40" stroke="#333" stroke-width="0.7" />
<line x1="351.08" y1="302.00" x2="351.08" y2="303.40" stroke="#333" stroke-width="0.7" />
<line x1="369.06" y1="302.00" x2="369.06" y2="303.40" stroke="#333" stroke-width="0.7" />
<line x1="374.33" y1="302.00" x2="374.33" y2="303.40" stroke="#333" stroke-width="0.7" />
<line x1="377.48" y1="302.00" x2="377.48" y2="303.40" stroke="#333" stroke-width="0.7" />
<text x="302.10" y="237.20" font-size="7.1" fill="#222" textLength="8.00" lengthAdjust="spacingAndGlyphs" stroke="#222" stroke-width="0.12" >Q1</text>
<text x="302.10" y="244.70" font-size="7.1" fill="#222" textLength="12.30" lengthAdjust="spacingAndGlyphs" stroke="#222" stroke-width="0.12" >4.81</text>
<text x="374.60" y="237.20" font-size="7.1" fill="#222" textLength="8.40" lengthAdjust="spacingAndGlyphs" stroke="#222" stroke-width="0.12" >Q2</text>
<text x="370.70" y="244.70" font-size="7.1" fill="#222" textLength="12.30" lengthAdjust="spacingAndGlyphs" stroke="#222" stroke-width="0.12" >2.99</text>
<text x="302.10" y="292.40" font-size="7.1" fill="#222" textLength="8.60" lengthAdjust="spacingAndGlyphs" stroke="#222" stroke-width="0.12" >Q4</text>
<text x="302.10" y="299.60" font-size="7.1" fill="#222" textLength="12.30" lengthAdjust="spacingAndGlyphs" stroke="#222" stroke-width="0.12" >89.3</text>
<text x="374.60" y="292.40" font-size="7.1" fill="#222" textLength="8.40" lengthAdjust="spacingAndGlyphs" stroke="#222" stroke-width="0.12" >Q3</text>
<text x="370.70" y="299.60" font-size="7.1" fill="#222" textLength="12.30" lengthAdjust="spacingAndGlyphs" stroke="#222" stroke-width="0.12" >2.90</text>
<g clip-path="url(#clip23)"><g filter="url(#bl)"><ellipse cx="448" cy="251.3" rx="23.5" ry="6.4" fill="#f2f2f2" stroke="#787878" stroke-width="0.6"/><ellipse cx="450" cy="251.3" rx="16.92" ry="4.61" fill="none" stroke="#787878" stroke-width="0.6"/><ellipse cx="452" cy="251.3" rx="10.34" ry="2.82" fill="none" stroke="#787878" stroke-width="0.6"/><ellipse cx="460" cy="251.5" rx="8.5" ry="3.3" fill="#dedede" stroke="#999" stroke-width="0.6"/><path d="M421,248 C418,256 420,264 424,273" fill="none" stroke="#7a7a7a" stroke-width="0.6"/><path d="M426,252 C424,259 426,266 430,272" fill="none" stroke="#7a7a7a" stroke-width="0.6"/><path d="M431,255 C430,261 432,266 436,271" fill="none" stroke="#808080" stroke-width="0.6"/><path d="M411.00,285.00 C411.83,284.02 414.17,284.67 416.00,283.50 C417.83,282.33 420.00,279.75 422.00,278.00 C424.00,276.25 426.00,274.07 428.00,273.00 C430.00,271.93 431.83,271.43 434.00,271.60 C436.17,271.77 438.83,272.77 441.00,274.00 C443.17,275.23 445.55,277.17 447.00,279.00 C448.45,280.83 449.87,283.33 449.70,285.00 C449.53,286.67 448.28,288.23 446.00,289.00 C443.72,289.77 440.00,289.53 436.00,289.60 C432.00,289.67 426.17,289.43 422.00,289.40 C417.83,289.37 412.83,290.13 411.00,289.40 C409.17,288.67 410.17,285.98 411.00,285.00 Z" fill="#e2e2e2" stroke="#707070" stroke-width="0.5"/><path d="M413.94,285.25 C414.66,284.33 416.66,284.94 418.24,283.85 C419.82,282.77 421.68,280.36 423.40,278.74 C425.12,277.11 426.84,275.08 428.56,274.08 C430.28,273.09 431.86,272.63 433.72,272.78 C435.58,272.94 437.88,273.87 439.74,275.01 C441.60,276.16 443.65,277.96 444.90,279.67 C446.15,281.37 447.37,283.69 447.22,285.25 C447.08,286.80 446.00,288.25 444.04,288.96 C442.08,289.68 438.88,289.46 435.44,289.52 C432.00,289.59 426.98,289.37 423.40,289.34 C419.82,289.31 415.52,290.02 413.94,289.34 C412.36,288.65 413.22,286.16 413.94,285.25 Z" fill="#c4c4c4" stroke="#707070" stroke-width="0.5"/><path d="M416.88,285.49 C417.48,284.64 419.16,285.20 420.48,284.20 C421.80,283.20 423.36,280.98 424.80,279.47 C426.24,277.97 427.68,276.09 429.12,275.17 C430.56,274.25 431.88,273.82 433.44,273.97 C435.00,274.11 436.92,274.97 438.48,276.03 C440.04,277.09 441.76,278.75 442.80,280.33 C443.84,281.91 444.86,284.06 444.74,285.49 C444.62,286.92 443.72,288.27 442.08,288.93 C440.44,289.59 437.76,289.39 434.88,289.45 C432.00,289.50 427.80,289.30 424.80,289.27 C421.80,289.25 418.20,289.90 416.88,289.27 C415.56,288.64 416.28,286.34 416.88,285.49 Z" fill="#9e9e9e" stroke="#606060" stroke-width="0.5"/><ellipse cx="434.5" cy="285.1" rx="14.8" ry="4.9" fill="#6a6a6a" stroke="#444" stroke-width="0.3"/><ellipse cx="434.5" cy="285.1" rx="12.3" ry="3.6" fill="#343434" stroke="none" stroke-width="0.5"/><ellipse cx="434.5" cy="285.1" rx="10.3" ry="2.6" fill="#141414" stroke="none" stroke-width="0.5"/><line x1="430.895" y1="285.0" x2="437.59" y2="285.0" stroke="#6a6a6a" stroke-width="0.6"/><ellipse cx="465.5" cy="280.3" rx="10.8" ry="5.3" fill="#f0f0f0" stroke="#a0a0a0" stroke-width="0.6" transform="rotate(-15 465.5 280.3)"/><ellipse cx="465.0" cy="280.5" rx="7.344000000000001" ry="3.286" fill="#d8d8d8" stroke="#a4a4a4" stroke-width="0.5" transform="rotate(-15 465.0 280.5)"/><ellipse cx="464.5" cy="280.6" rx="3.78" ry="1.5899999999999999" fill="none" stroke="#b0b0b0" stroke-width="0.45" transform="rotate(-15 464.5 280.6)"/></g></g>
<line x1="453.60" y1="230.20" x2="453.60" y2="302.00" stroke="#555" stroke-width="1.1" />
<line x1="413.30" y1="267.30" x2="499.50" y2="267.30" stroke="#555" stroke-width="1.1" />
<rect x="413.30" y="230.20" width="86.20" height="71.80" fill="none" stroke="#9a9a9a" stroke-width="0.9"/>
<line x1="413.30" y1="230.20" x2="413.30" y2="302.00" stroke="#222" stroke-width="0.9" />
<line x1="413.30" y1="302.00" x2="499.50" y2="302.00" stroke="#222" stroke-width="0.9" />
<line x1="410.90" y1="236.98" x2="413.30" y2="236.98" stroke="#111" stroke-width="0.9" />
<text x="399.90" y="240.48" font-size="6.9" fill="#222" textLength="6.60" lengthAdjust="spacingAndGlyphs" stroke="#222" stroke-width="0.12" >10</text>
<text x="407.10" y="236.98" font-size="4.0" fill="#222" textLength="1.90" lengthAdjust="spacingAndGlyphs" stroke="#222" stroke-width="0.12" >5</text>
<line x1="410.90" y1="253.93" x2="413.30" y2="253.93" stroke="#111" stroke-width="0.9" />
<text x="399.90" y="257.43" font-size="6.9" fill="#222" textLength="6.60" lengthAdjust="spacingAndGlyphs" stroke="#222" stroke-width="0.12" >10</text>
<text x="407.10" y="253.93" font-size="4.0" fill="#222" textLength="1.90" lengthAdjust="spacingAndGlyphs" stroke="#222" stroke-width="0.12" >4</text>
<line x1="410.90" y1="273.28" x2="413.30" y2="273.28" stroke="#111" stroke-width="0.9" />
<text x="399.90" y="276.78" font-size="6.9" fill="#222" textLength="6.60" lengthAdjust="spacingAndGlyphs" stroke="#222" stroke-width="0.12" >10</text>
<text x="407.10" y="273.28" font-size="4.0" fill="#222" textLength="1.90" lengthAdjust="spacingAndGlyphs" stroke="#222" stroke-width="0.12" >3</text>
<line x1="410.90" y1="285.05" x2="413.30" y2="285.05" stroke="#111" stroke-width="0.9" />
<text x="405.20" y="287.55" font-size="7.0" fill="#222" textLength="3.40" lengthAdjust="spacingAndGlyphs" stroke="#222" stroke-width="0.12" >0</text>
<rect x="411.00" y="283.65" width="2.30" height="2.80" fill="#000" />
<line x1="410.90" y1="296.91" x2="413.30" y2="296.91" stroke="#111" stroke-width="0.9" />
<text x="395.70" y="300.41" font-size="6.9" fill="#222" textLength="10.80" lengthAdjust="spacingAndGlyphs" stroke="#222" stroke-width="0.12" >−10</text>
<text x="406.90" y="297.31" font-size="4.0" fill="#222" textLength="1.80" lengthAdjust="spacingAndGlyphs" stroke="#222" stroke-width="0.12" >3</text>
<line x1="411.90" y1="245.80" x2="413.30" y2="245.80" stroke="#333" stroke-width="0.7" />
<line x1="411.90" y1="248.68" x2="413.30" y2="248.68" stroke="#333" stroke-width="0.7" />
<line x1="411.90" y1="251.56" x2="413.30" y2="251.56" stroke="#333" stroke-width="0.7" />
<line x1="411.90" y1="263.99" x2="413.30" y2="263.99" stroke="#333" stroke-width="0.7" />
<line x1="411.90" y1="267.28" x2="413.30" y2="267.28" stroke="#333" stroke-width="0.7" />
<line x1="411.90" y1="270.57" x2="413.30" y2="270.57" stroke="#333" stroke-width="0.7" />
<line x1="411.90" y1="279.40" x2="413.30" y2="279.40" stroke="#333" stroke-width="0.7" />
<line x1="411.90" y1="281.40" x2="413.30" y2="281.40" stroke="#333" stroke-width="0.7" />
<line x1="411.90" y1="283.40" x2="413.30" y2="283.40" stroke="#333" stroke-width="0.7" />
<line x1="411.90" y1="288.96" x2="413.30" y2="288.96" stroke="#333" stroke-width="0.7" />
<line x1="411.90" y1="292.88" x2="413.30" y2="292.88" stroke="#333" stroke-width="0.7" />
<line x1="411.90" y1="277.16" x2="413.30" y2="277.16" stroke="#333" stroke-width="0.7" />
<line x1="411.90" y1="281.05" x2="413.30" y2="281.05" stroke="#333" stroke-width="0.7" />
<text x="432.21" y="315.50" font-size="7.2" fill="#222" textLength="3.50" lengthAdjust="spacingAndGlyphs" stroke="#222" stroke-width="0.12" >0</text>
<rect x="430.81" y="302.00" width="4.10" height="1.90" fill="#000" />
<text x="465.37" y="315.20" font-size="7.4" fill="#222" textLength="6.80" lengthAdjust="spacingAndGlyphs" stroke="#222" stroke-width="0.12" >10</text>
<text x="472.57" y="311.90" font-size="4.2" fill="#222" textLength="1.80" lengthAdjust="spacingAndGlyphs" stroke="#222" stroke-width="0.12" >4</text>
<line x1="470.37" y1="302.00" x2="470.37" y2="304.40" stroke="#111" stroke-width="0.9" />
<text x="485.98" y="315.20" font-size="7.4" fill="#222" textLength="6.80" lengthAdjust="spacingAndGlyphs" stroke="#222" stroke-width="0.12" >10</text>
<text x="493.18" y="311.90" font-size="4.2" fill="#222" textLength="1.80" lengthAdjust="spacingAndGlyphs" stroke="#222" stroke-width="0.12" >5</text>
<line x1="490.98" y1="302.00" x2="490.98" y2="304.40" stroke="#111" stroke-width="0.9" />
<line x1="418.30" y1="302.00" x2="418.30" y2="304.00" stroke="#111" stroke-width="0.9" />
<line x1="422.98" y1="302.00" x2="422.98" y2="303.40" stroke="#333" stroke-width="0.7" />
<line x1="426.88" y1="302.00" x2="426.88" y2="303.40" stroke="#333" stroke-width="0.7" />
<line x1="430.01" y1="302.00" x2="430.01" y2="303.40" stroke="#333" stroke-width="0.7" />
<line x1="446.67" y1="302.00" x2="446.67" y2="303.40" stroke="#333" stroke-width="0.7" />
<line x1="455.79" y1="302.00" x2="455.79" y2="303.40" stroke="#333" stroke-width="0.7" />
<line x1="463.08" y1="302.00" x2="463.08" y2="303.40" stroke="#333" stroke-width="0.7" />
<line x1="480.67" y1="302.00" x2="480.67" y2="303.40" stroke="#333" stroke-width="0.7" />
<line x1="485.83" y1="302.00" x2="485.83" y2="303.40" stroke="#333" stroke-width="0.7" />
<line x1="488.92" y1="302.00" x2="488.92" y2="303.40" stroke="#333" stroke-width="0.7" />
<text x="416.10" y="237.20" font-size="7.1" fill="#222" textLength="8.00" lengthAdjust="spacingAndGlyphs" stroke="#222" stroke-width="0.12" >Q1</text>
<text x="416.10" y="244.70" font-size="7.1" fill="#222" textLength="12.30" lengthAdjust="spacingAndGlyphs" stroke="#222" stroke-width="0.12" >5.37</text>
<text x="487.30" y="237.20" font-size="7.1" fill="#222" textLength="8.40" lengthAdjust="spacingAndGlyphs" stroke="#222" stroke-width="0.12" >Q2</text>
<text x="483.40" y="244.70" font-size="7.1" fill="#222" textLength="12.30" lengthAdjust="spacingAndGlyphs" stroke="#222" stroke-width="0.12" >2.81</text>
<text x="416.10" y="292.40" font-size="7.1" fill="#222" textLength="8.60" lengthAdjust="spacingAndGlyphs" stroke="#222" stroke-width="0.12" >Q4</text>
<text x="416.10" y="299.60" font-size="7.1" fill="#222" textLength="12.30" lengthAdjust="spacingAndGlyphs" stroke="#222" stroke-width="0.12" >88.8</text>
<text x="487.30" y="292.40" font-size="7.1" fill="#222" textLength="8.40" lengthAdjust="spacingAndGlyphs" stroke="#222" stroke-width="0.12" >Q3</text>
<text x="483.40" y="299.60" font-size="7.1" fill="#222" textLength="12.30" lengthAdjust="spacingAndGlyphs" stroke="#222" stroke-width="0.12" >2.97</text>
<line x1="66.60" y1="373.00" x2="66.60" y2="506.50" stroke="#111" stroke-width="1" />
<line x1="66.60" y1="506.50" x2="198.70" y2="506.50" stroke="#111" stroke-width="1" />
<line x1="64.30" y1="506.50" x2="66.60" y2="506.50" stroke="#111" stroke-width="0.9" />
<text x="56.60" y="509.30" font-size="7.8" fill="#333" textLength="4.10" lengthAdjust="spacingAndGlyphs" stroke="#333" stroke-width="0.1" >0</text>
<line x1="64.30" y1="491.98" x2="66.60" y2="491.98" stroke="#111" stroke-width="0.9" />
<text x="56.60" y="494.78" font-size="7.8" fill="#333" textLength="4.10" lengthAdjust="spacingAndGlyphs" stroke="#333" stroke-width="0.1" >5</text>
<line x1="64.30" y1="477.46" x2="66.60" y2="477.46" stroke="#111" stroke-width="0.9" />
<text x="52.70" y="480.26" font-size="7.8" fill="#333" textLength="8.00" lengthAdjust="spacingAndGlyphs" stroke="#333" stroke-width="0.1" >10</text>
<line x1="64.30" y1="462.94" x2="66.60" y2="462.94" stroke="#111" stroke-width="0.9" />
<text x="52.70" y="465.74" font-size="7.8" fill="#333" textLength="8.00" lengthAdjust="spacingAndGlyphs" stroke="#333" stroke-width="0.1" >15</text>
<line x1="64.30" y1="448.42" x2="66.60" y2="448.42" stroke="#111" stroke-width="0.9" />
<text x="52.70" y="451.22" font-size="7.8" fill="#333" textLength="8.00" lengthAdjust="spacingAndGlyphs" stroke="#333" stroke-width="0.1" >20</text>
<line x1="64.30" y1="433.90" x2="66.60" y2="433.90" stroke="#111" stroke-width="0.9" />
<text x="52.70" y="436.70" font-size="7.8" fill="#333" textLength="8.00" lengthAdjust="spacingAndGlyphs" stroke="#333" stroke-width="0.1" >25</text>
<line x1="64.30" y1="419.38" x2="66.60" y2="419.38" stroke="#111" stroke-width="0.9" />
<text x="52.70" y="422.18" font-size="7.8" fill="#333" textLength="8.00" lengthAdjust="spacingAndGlyphs" stroke="#333" stroke-width="0.1" >30</text>
<line x1="64.30" y1="404.86" x2="66.60" y2="404.86" stroke="#111" stroke-width="0.9" />
<text x="52.70" y="407.66" font-size="7.8" fill="#333" textLength="8.00" lengthAdjust="spacingAndGlyphs" stroke="#333" stroke-width="0.1" >35</text>
<line x1="64.30" y1="390.34" x2="66.60" y2="390.34" stroke="#111" stroke-width="0.9" />
<text x="52.70" y="393.14" font-size="7.8" fill="#333" textLength="8.00" lengthAdjust="spacingAndGlyphs" stroke="#333" stroke-width="0.1" >40</text>
<line x1="64.30" y1="375.82" x2="66.60" y2="375.82" stroke="#111" stroke-width="0.9" />
<text x="52.70" y="378.62" font-size="7.8" fill="#333" textLength="8.00" lengthAdjust="spacingAndGlyphs" stroke="#333" stroke-width="0.1" >45</text>
<rect x="73.90" y="487.62" width="6.00" height="18.88" fill="#18488a" />
<rect x="81.85" y="486.17" width="6.00" height="20.33" fill="#df0c7a" />
<rect x="89.80" y="389.47" width="6.00" height="117.03" fill="#5a1f68" />
<rect x="97.75" y="472.23" width="6.00" height="34.27" fill="#f18d16" />
<line x1="88.90" y1="506.50" x2="88.90" y2="509.00" stroke="#111" stroke-width="0.9" />
<rect x="117.70" y="499.82" width="6.00" height="6.68" fill="#18488a" />
<rect x="125.65" y="497.50" width="6.00" height="9.00" fill="#df0c7a" />
<rect x="133.60" y="500.98" width="6.00" height="5.52" fill="#5a1f68" />
<rect x="141.55" y="500.11" width="6.00" height="6.39" fill="#f18d16" />
<line x1="132.70" y1="506.50" x2="132.70" y2="509.00" stroke="#111" stroke-width="0.9" />
<rect x="162.20" y="500.40" width="6.00" height="6.10" fill="#18488a" />
<rect x="170.15" y="499.24" width="6.00" height="7.26" fill="#df0c7a" />
<rect x="178.10" y="498.08" width="6.00" height="8.42" fill="#5a1f68" />
<rect x="186.05" y="498.66" width="6.00" height="7.84" fill="#f18d16" />
<line x1="177.20" y1="506.50" x2="177.20" y2="509.00" stroke="#111" stroke-width="0.9" />
<text x="74.60" y="519.80" font-size="8.9" fill="#333" textLength="28.20" lengthAdjust="spacingAndGlyphs" stroke="#333" stroke-width="0.03" >AML-14</text>
<text x="112.90" y="519.80" font-size="8.9" fill="#333" textLength="39.20" lengthAdjust="spacingAndGlyphs" stroke="#333" stroke-width="0.03" >PBMC-A2+</text>
<text x="157.50" y="519.80" font-size="8.9" fill="#333" textLength="37.90" lengthAdjust="spacingAndGlyphs" stroke="#333" stroke-width="0.03" >PBMC-A2–</text>
<text x="106.60" y="365.00" font-size="10.4" fill="#333" textLength="51.80" lengthAdjust="spacingAndGlyphs" stroke="#333" stroke-width="0.03" >CD33+ cells</text>
<text x="12.20" y="440.00" font-size="9.6" fill="#333" textLength="68.00" lengthAdjust="spacingAndGlyphs" transform="rotate(-90 46.20 440.00)" stroke="#333" stroke-width="0.03" >% CD33+ cell death</text>
<line x1="252.50" y1="375.70" x2="252.50" y2="507.50" stroke="#111" stroke-width="1" />
<line x1="252.50" y1="507.50" x2="409.60" y2="507.50" stroke="#111" stroke-width="1" />
<line x1="250.10" y1="507.50" x2="252.50" y2="507.50" stroke="#111" stroke-width="0.9" />
<text x="241.70" y="510.30" font-size="7.8" fill="#333" textLength="4.10" lengthAdjust="spacingAndGlyphs" stroke="#333" stroke-width="0.1" >0</text>
<line x1="250.10" y1="489.04" x2="252.50" y2="489.04" stroke="#111" stroke-width="0.9" />
<text x="237.80" y="491.84" font-size="7.8" fill="#333" textLength="8.00" lengthAdjust="spacingAndGlyphs" stroke="#333" stroke-width="0.1" >10</text>
<line x1="250.10" y1="470.58" x2="252.50" y2="470.58" stroke="#111" stroke-width="0.9" />
<text x="237.80" y="473.38" font-size="7.8" fill="#333" textLength="8.00" lengthAdjust="spacingAndGlyphs" stroke="#333" stroke-width="0.1" >20</text>
<line x1="250.10" y1="452.12" x2="252.50" y2="452.12" stroke="#111" stroke-width="0.9" />
<text x="237.80" y="454.92" font-size="7.8" fill="#333" textLength="8.00" lengthAdjust="spacingAndGlyphs" stroke="#333" stroke-width="0.1" >30</text>
<line x1="250.10" y1="433.66" x2="252.50" y2="433.66" stroke="#111" stroke-width="0.9" />
<text x="237.80" y="436.46" font-size="7.8" fill="#333" textLength="8.00" lengthAdjust="spacingAndGlyphs" stroke="#333" stroke-width="0.1" >40</text>
<line x1="250.10" y1="415.20" x2="252.50" y2="415.20" stroke="#111" stroke-width="0.9" />
<text x="237.80" y="418.00" font-size="7.8" fill="#333" textLength="8.00" lengthAdjust="spacingAndGlyphs" stroke="#333" stroke-width="0.1" >50</text>
<line x1="250.10" y1="396.74" x2="252.50" y2="396.74" stroke="#111" stroke-width="0.9" />
<text x="237.80" y="399.54" font-size="7.8" fill="#333" textLength="8.00" lengthAdjust="spacingAndGlyphs" stroke="#333" stroke-width="0.1" >60</text>
<line x1="250.10" y1="378.28" x2="252.50" y2="378.28" stroke="#111" stroke-width="0.9" />
<text x="237.80" y="381.08" font-size="7.8" fill="#333" textLength="8.00" lengthAdjust="spacingAndGlyphs" stroke="#333" stroke-width="0.1" >70</text>
<rect x="257.40" y="404.68" width="4.50" height="102.82" fill="#18488a" />
<rect x="263.25" y="411.32" width="4.50" height="96.18" fill="#df0c7a" />
<rect x="269.10" y="403.02" width="4.50" height="104.48" fill="#5a1f68" />
<rect x="274.95" y="407.08" width="4.50" height="100.42" fill="#f18d16" />
<line x1="267.30" y1="507.50" x2="267.30" y2="510.00" stroke="#111" stroke-width="0.9" />
<rect x="288.80" y="495.13" width="4.50" height="12.37" fill="#18488a" />
<rect x="294.65" y="495.69" width="4.50" height="11.81" fill="#df0c7a" />
<rect x="300.50" y="495.32" width="4.50" height="12.18" fill="#5a1f68" />
<rect x="306.35" y="494.95" width="4.50" height="12.55" fill="#f18d16" />
<line x1="299.00" y1="507.50" x2="299.00" y2="510.00" stroke="#111" stroke-width="0.9" />
<rect x="351.80" y="405.05" width="4.50" height="102.45" fill="#18488a" />
<rect x="357.65" y="400.43" width="4.50" height="107.07" fill="#df0c7a" />
<rect x="363.50" y="401.36" width="4.50" height="106.15" fill="#5a1f68" />
<rect x="369.35" y="400.43" width="4.50" height="107.07" fill="#f18d16" />
<line x1="362.90" y1="507.50" x2="362.90" y2="510.00" stroke="#111" stroke-width="0.9" />
<rect x="383.60" y="502.88" width="4.50" height="4.62" fill="#18488a" />
<rect x="389.45" y="502.70" width="4.50" height="4.80" fill="#df0c7a" />
<rect x="395.30" y="503.25" width="4.50" height="4.25" fill="#5a1f68" />
<rect x="401.15" y="502.88" width="4.50" height="4.62" fill="#f18d16" />
<line x1="394.00" y1="507.50" x2="394.00" y2="510.00" stroke="#111" stroke-width="0.9" />
<text x="257.10" y="520.90" font-size="8.8" fill="#333" textLength="22.00" lengthAdjust="spacingAndGlyphs" stroke="#333" stroke-width="0.03" >CD3 T</text>
<text x="260.90" y="530.30" font-size="8.8" fill="#333" textLength="14.40" lengthAdjust="spacingAndGlyphs" stroke="#333" stroke-width="0.03" >cells</text>
<text x="288.55" y="520.90" font-size="8.8" fill="#333" textLength="20.50" lengthAdjust="spacingAndGlyphs" stroke="#333" stroke-width="0.03" >CD19</text>
<text x="288.70" y="530.30" font-size="8.8" fill="#333" textLength="20.20" lengthAdjust="spacingAndGlyphs" stroke="#333" stroke-width="0.03" >Bcells</text>
<text x="351.70" y="520.90" font-size="8.8" fill="#333" textLength="22.00" lengthAdjust="spacingAndGlyphs" stroke="#333" stroke-width="0.03" >CD3 T</text>
<text x="355.50" y="530.30" font-size="8.8" fill="#333" textLength="14.40" lengthAdjust="spacingAndGlyphs" stroke="#333" stroke-width="0.03" >cells</text>
<text x="383.95" y="520.90" font-size="8.8" fill="#333" textLength="20.50" lengthAdjust="spacingAndGlyphs" stroke="#333" stroke-width="0.03" >CD19</text>
<text x="384.10" y="530.30" font-size="8.8" fill="#333" textLength="20.20" lengthAdjust="spacingAndGlyphs" stroke="#333" stroke-width="0.03" >Bcells</text>
<text x="264.00" y="364.90" font-size="10.6" fill="#333" textLength="38.80" lengthAdjust="spacingAndGlyphs" stroke="#333" stroke-width="0.03" >HLA-A2+</text>
<text x="359.40" y="364.90" font-size="10.6" fill="#333" textLength="38.20" lengthAdjust="spacingAndGlyphs" stroke="#333" stroke-width="0.03" >HLA-A2–</text>
<text x="214.20" y="440.00" font-size="9.2" fill="#333" textLength="35.40" lengthAdjust="spacingAndGlyphs" transform="rotate(-90 231.90 440.00)" stroke="#333" stroke-width="0.03" >% Live cells</text>
<rect x="412.40" y="417.10" width="4.40" height="3.80" fill="#18488a" />
<text x="420.50" y="421.60" font-size="9.6" fill="#333" textLength="26.60" lengthAdjust="spacingAndGlyphs" stroke="#333" stroke-width="0.03" >Mock-T</text>
<rect x="412.40" y="427.10" width="4.40" height="3.80" fill="#df0c7a" />
<text x="420.50" y="431.60" font-size="9.6" fill="#333" textLength="14.80" lengthAdjust="spacingAndGlyphs" stroke="#333" stroke-width="0.03" >CSR</text>
<rect x="412.40" y="437.10" width="4.40" height="3.80" fill="#5a1f68" />
<text x="420.50" y="441.60" font-size="9.6" fill="#333" textLength="58.30" lengthAdjust="spacingAndGlyphs" stroke="#333" stroke-width="0.03" >AbTCR-CSR #18</text>
<rect x="412.40" y="447.10" width="4.40" height="3.80" fill="#f18d16" />
<text x="420.50" y="451.60" font-size="9.6" fill="#333" textLength="58.30" lengthAdjust="spacingAndGlyphs" stroke="#333" stroke-width="0.03" >AbTCR-CSR #34</text>
<rect x="0.5" y="0.5" width="519" height="538" fill="none" stroke="#505050" stroke-width="1.1"/></svg>
</body></html>
